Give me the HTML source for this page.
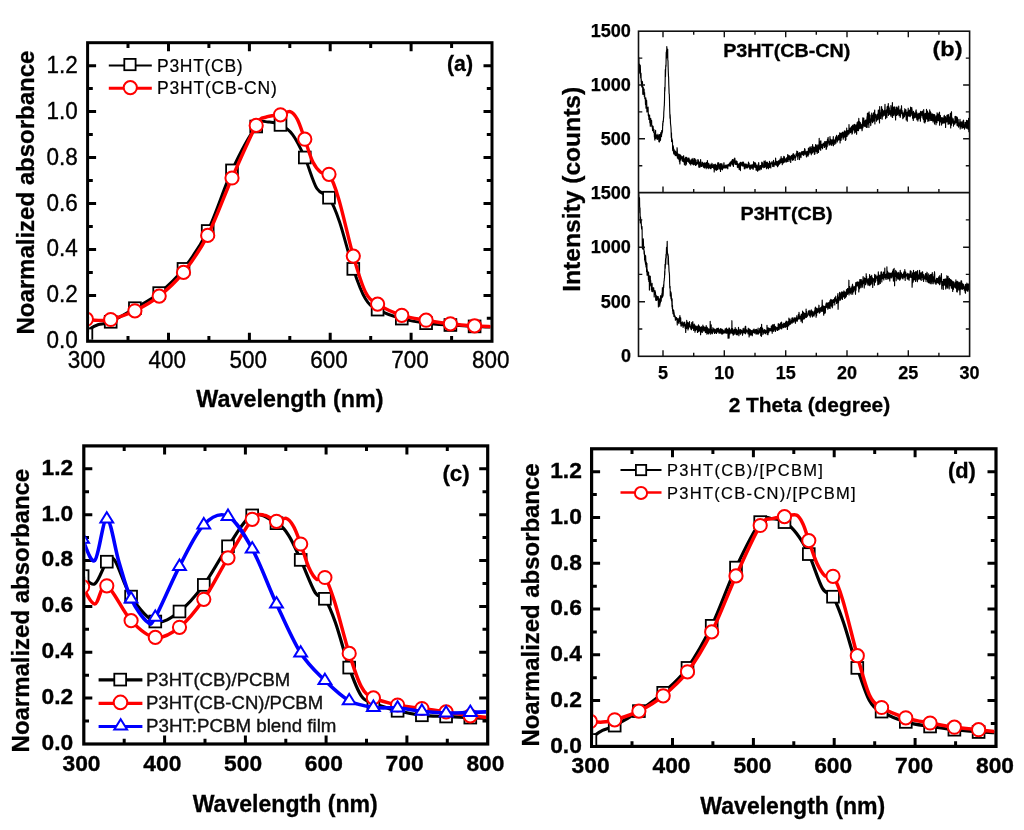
<!DOCTYPE html>
<html><head><meta charset="utf-8"><title>Figure</title><style>html,body{margin:0;padding:0;background:#fff;overflow:hidden}svg{display:block;filter:blur(0.45px)}text{font-family:"Liberation Sans",sans-serif}</style></head><body>
<svg width="1024" height="830" viewBox="0 0 1024 830">
<rect width="1024" height="830" fill="#fff"/>
<rect x="87.6" y="42.7" width="404.4" height="298.6" fill="none" stroke="#000" stroke-width="3"/>
<path d="M87.6 318.3h5.2M492 318.3h-5.2M87.6 295.4h8.5M492 295.4h-8.5M87.6 272.4h5.2M492 272.4h-5.2M87.6 249.4h8.5M492 249.4h-8.5M87.6 226.5h5.2M492 226.5h-5.2M87.6 203.5h8.5M492 203.5h-8.5M87.6 180.5h5.2M492 180.5h-5.2M87.6 157.5h8.5M492 157.5h-8.5M87.6 134.6h5.2M492 134.6h-5.2M87.6 111.6h8.5M492 111.6h-8.5M87.6 88.6h5.2M492 88.6h-5.2M87.6 65.7h8.5M492 65.7h-8.5M128 341.3v-5.2M128 42.7v5.2M168.5 341.3v-8.5M168.5 42.7v8.5M208.9 341.3v-5.2M208.9 42.7v5.2M249.4 341.3v-8.5M249.4 42.7v8.5M289.8 341.3v-5.2M289.8 42.7v5.2M330.2 341.3v-8.5M330.2 42.7v8.5M370.7 341.3v-5.2M370.7 42.7v5.2M411.1 341.3v-8.5M411.1 42.7v8.5M451.6 341.3v-5.2M451.6 42.7v5.2" stroke="#000" stroke-width="3" fill="none"/>
<clipPath id="ca"><rect x="89.1" y="44.2" width="401.4" height="295.6"/></clipPath>
<g clip-path="url(#ca)">
<path d="M86.4 334.4C87.2 333.3 89.2 329.6 91.3 328C93.3 326.3 95.3 325.6 98.5 324.5C101.8 323.5 104.6 324.5 110.7 321.8C116.7 319.1 126.8 313 134.9 308.2C143 303.4 151.1 299.6 159.2 293.1C167.3 286.5 175.4 279.3 183.5 268.9C191.5 258.6 199.6 247.5 207.7 231C215.8 214.6 223.9 187.8 232 170.4C240.1 153 250.2 134.6 256.2 126.5C262.3 118.5 264.3 122.2 268.4 121.9C272.4 121.7 276.5 122.8 280.5 124.9C284.6 127 288.6 129.1 292.6 134.6C296.7 140 300.7 148.5 304.8 157.5C308.8 166.5 312.9 181.9 316.9 188.6C321 195.3 325.3 192.2 329 197.7C332.8 203.3 335.5 210 339.6 221.9C343.6 233.7 349 256.1 353.3 268.9C357.6 281.8 361.4 292 365.4 298.8C369.5 305.6 371.5 306.3 377.6 309.6C383.6 312.9 393.7 316.3 401.8 318.6C409.9 320.8 418 322.1 426.1 323.2C434.2 324.2 442.3 324.5 450.4 325C458.4 325.5 467.9 326 474.6 326.4C481.4 326.7 488.1 326.9 490.8 327.1" stroke="#000" stroke-width="3.0" fill="none" stroke-linejoin="round"/>
<rect x="80.5" y="328.5" width="11.8" height="11.8" fill="#fff" stroke="#000" stroke-width="1.8"/>
<rect x="104.8" y="315.9" width="11.8" height="11.8" fill="#fff" stroke="#000" stroke-width="1.8"/>
<rect x="129" y="302.3" width="11.8" height="11.8" fill="#fff" stroke="#000" stroke-width="1.8"/>
<rect x="153.3" y="287.2" width="11.8" height="11.8" fill="#fff" stroke="#000" stroke-width="1.8"/>
<rect x="177.6" y="263" width="11.8" height="11.8" fill="#fff" stroke="#000" stroke-width="1.8"/>
<rect x="201.8" y="225.1" width="11.8" height="11.8" fill="#fff" stroke="#000" stroke-width="1.8"/>
<rect x="226.1" y="164.5" width="11.8" height="11.8" fill="#fff" stroke="#000" stroke-width="1.8"/>
<rect x="250.3" y="120.6" width="11.8" height="11.8" fill="#fff" stroke="#000" stroke-width="1.8"/>
<rect x="274.6" y="119" width="11.8" height="11.8" fill="#fff" stroke="#000" stroke-width="1.8"/>
<rect x="298.9" y="151.6" width="11.8" height="11.8" fill="#fff" stroke="#000" stroke-width="1.8"/>
<rect x="323.1" y="191.8" width="11.8" height="11.8" fill="#fff" stroke="#000" stroke-width="1.8"/>
<rect x="347.4" y="263" width="11.8" height="11.8" fill="#fff" stroke="#000" stroke-width="1.8"/>
<rect x="371.7" y="303.7" width="11.8" height="11.8" fill="#fff" stroke="#000" stroke-width="1.8"/>
<rect x="395.9" y="312.7" width="11.8" height="11.8" fill="#fff" stroke="#000" stroke-width="1.8"/>
<rect x="420.2" y="317.3" width="11.8" height="11.8" fill="#fff" stroke="#000" stroke-width="1.8"/>
<rect x="444.5" y="319.1" width="11.8" height="11.8" fill="#fff" stroke="#000" stroke-width="1.8"/>
<rect x="468.7" y="320.5" width="11.8" height="11.8" fill="#fff" stroke="#000" stroke-width="1.8"/>
</g>
<g clip-path="url(#ca)">
<path d="M86.4 319.2C88.4 319.4 94.5 320.4 98.5 320.4C102.6 320.4 104.6 321.1 110.7 319.5C116.7 317.9 126.8 314.7 134.9 310.8C143 306.8 151.1 302.4 159.2 296.1C167.3 289.7 175.4 282.5 183.5 272.4C191.5 262.3 199.6 251.1 207.7 235.4C215.8 219.7 223.9 196.3 232 178C240.1 159.7 250.6 135.5 256.2 125.4C261.9 115.2 261.9 118.9 266 117.1C270 115.4 276.5 115.7 280.5 114.8C284.6 113.9 287.4 110.8 290.2 111.6C293 112.4 295.1 115.1 297.5 119.6C299.9 124.2 302.2 132.1 304.8 139.2C307.3 146.3 310.2 156.6 312.9 162.1C315.6 167.7 318.3 170.4 321 172.5C323.6 174.5 326.1 169.9 329 174.3C332 178.7 334.7 185.3 338.7 198.9C342.8 212.5 348.9 240.6 353.3 256.1C357.8 271.6 361.4 283.9 365.4 291.9C369.5 299.9 371.5 300.2 377.6 304.1C383.6 308 393.7 312.7 401.8 315.3C409.9 318 418 318.8 426.1 320.2C434.2 321.6 442.3 322.9 450.4 323.8C458.4 324.8 467.9 325.5 474.6 325.9C481.4 326.4 488.1 326.5 490.8 326.6" stroke="#f00" stroke-width="3.4" fill="none" stroke-linejoin="round"/>
<circle cx="86.4" cy="319.2" r="6.6" fill="#fff" stroke="#f00" stroke-width="2"/>
<circle cx="110.7" cy="319.5" r="6.6" fill="#fff" stroke="#f00" stroke-width="2"/>
<circle cx="134.9" cy="310.8" r="6.6" fill="#fff" stroke="#f00" stroke-width="2"/>
<circle cx="159.2" cy="296.1" r="6.6" fill="#fff" stroke="#f00" stroke-width="2"/>
<circle cx="183.5" cy="272.4" r="6.6" fill="#fff" stroke="#f00" stroke-width="2"/>
<circle cx="207.7" cy="235.4" r="6.6" fill="#fff" stroke="#f00" stroke-width="2"/>
<circle cx="232" cy="178" r="6.6" fill="#fff" stroke="#f00" stroke-width="2"/>
<circle cx="256.2" cy="125.4" r="6.6" fill="#fff" stroke="#f00" stroke-width="2"/>
<circle cx="280.5" cy="114.8" r="6.6" fill="#fff" stroke="#f00" stroke-width="2"/>
<circle cx="304.8" cy="139.2" r="6.6" fill="#fff" stroke="#f00" stroke-width="2"/>
<circle cx="329" cy="174.3" r="6.6" fill="#fff" stroke="#f00" stroke-width="2"/>
<circle cx="353.3" cy="256.1" r="6.6" fill="#fff" stroke="#f00" stroke-width="2"/>
<circle cx="377.6" cy="304.1" r="6.6" fill="#fff" stroke="#f00" stroke-width="2"/>
<circle cx="401.8" cy="315.3" r="6.6" fill="#fff" stroke="#f00" stroke-width="2"/>
<circle cx="426.1" cy="320.2" r="6.6" fill="#fff" stroke="#f00" stroke-width="2"/>
<circle cx="450.4" cy="323.8" r="6.6" fill="#fff" stroke="#f00" stroke-width="2"/>
<circle cx="474.6" cy="325.9" r="6.6" fill="#fff" stroke="#f00" stroke-width="2"/>
</g>
<text x="77.8" y="348.3" font-size="24" text-anchor="end" fill="#000" textLength="31.3" lengthAdjust="spacingAndGlyphs" stroke="#000" stroke-width="0.35">0.0</text>
<text x="77.8" y="302.4" font-size="24" text-anchor="end" fill="#000" textLength="31.3" lengthAdjust="spacingAndGlyphs" stroke="#000" stroke-width="0.35">0.2</text>
<text x="77.8" y="256.4" font-size="24" text-anchor="end" fill="#000" textLength="31.3" lengthAdjust="spacingAndGlyphs" stroke="#000" stroke-width="0.35">0.4</text>
<text x="77.8" y="210.5" font-size="24" text-anchor="end" fill="#000" textLength="31.3" lengthAdjust="spacingAndGlyphs" stroke="#000" stroke-width="0.35">0.6</text>
<text x="77.8" y="164.5" font-size="24" text-anchor="end" fill="#000" textLength="31.3" lengthAdjust="spacingAndGlyphs" stroke="#000" stroke-width="0.35">0.8</text>
<text x="77.8" y="118.6" font-size="24" text-anchor="end" fill="#000" textLength="31.3" lengthAdjust="spacingAndGlyphs" stroke="#000" stroke-width="0.35">1.0</text>
<text x="77.8" y="72.7" font-size="24" text-anchor="end" fill="#000" textLength="31.3" lengthAdjust="spacingAndGlyphs" stroke="#000" stroke-width="0.35">1.2</text>
<text x="86.4" y="368" font-size="24" text-anchor="middle" fill="#000" textLength="37.5" lengthAdjust="spacingAndGlyphs" stroke="#000" stroke-width="0.35">300</text>
<text x="167.3" y="368" font-size="24" text-anchor="middle" fill="#000" textLength="37.5" lengthAdjust="spacingAndGlyphs" stroke="#000" stroke-width="0.35">400</text>
<text x="248.2" y="368" font-size="24" text-anchor="middle" fill="#000" textLength="37.5" lengthAdjust="spacingAndGlyphs" stroke="#000" stroke-width="0.35">500</text>
<text x="329" y="368" font-size="24" text-anchor="middle" fill="#000" textLength="37.5" lengthAdjust="spacingAndGlyphs" stroke="#000" stroke-width="0.35">600</text>
<text x="409.9" y="368" font-size="24" text-anchor="middle" fill="#000" textLength="37.5" lengthAdjust="spacingAndGlyphs" stroke="#000" stroke-width="0.35">700</text>
<text x="490.8" y="368" font-size="24" text-anchor="middle" fill="#000" textLength="37.5" lengthAdjust="spacingAndGlyphs" stroke="#000" stroke-width="0.35">800</text>
<text transform="translate(34 192.6) rotate(-90)" x="0" y="0" font-size="24" font-weight="bold" text-anchor="middle" textLength="284" lengthAdjust="spacingAndGlyphs" stroke="#000" stroke-width="0.3">Noarmalized absorbance</text>
<text x="289.9" y="407.3" font-size="23" font-weight="bold" text-anchor="middle" fill="#000" textLength="187.2" lengthAdjust="spacingAndGlyphs" stroke="#000" stroke-width="0.3">Wavelength (nm)</text>
<text x="473" y="71" font-size="22" font-weight="bold" text-anchor="end" fill="#000" textLength="26" lengthAdjust="spacingAndGlyphs" stroke="#000" stroke-width="0.3">(a)</text>
<path d="M108.8 65.5H151.8" stroke="#000" stroke-width="2.2"/>
<rect x="124.3" y="58.9" width="11.3" height="11.3" fill="#fff" stroke="#000" stroke-width="1.8"/>
<path d="M108.8 88.2H151.8" stroke="#f00" stroke-width="3"/>
<circle cx="130.3" cy="87.6" r="6.6" fill="#fff" stroke="#f00" stroke-width="2"/>
<text x="157" y="71.6" font-size="17.5" text-anchor="start" fill="#000" textLength="85.6" lengthAdjust="spacing" stroke="#000" stroke-width="0.2">P3HT(CB)</text>
<text x="157" y="94.4" font-size="17.5" text-anchor="start" fill="#000" textLength="119.8" lengthAdjust="spacing" stroke="#000" stroke-width="0.2">P3HT(CB-CN)</text>
<rect x="83.8" y="445.9" width="403.9" height="298.1" fill="none" stroke="#000" stroke-width="3.2"/>
<path d="M83.8 721.1h5.2M487.7 721.1h-5.2M83.8 698.1h8.5M487.7 698.1h-8.5M83.8 675.2h5.2M487.7 675.2h-5.2M83.8 652.3h8.5M487.7 652.3h-8.5M83.8 629.3h5.2M487.7 629.3h-5.2M83.8 606.4h8.5M487.7 606.4h-8.5M83.8 583.5h5.2M487.7 583.5h-5.2M83.8 560.6h8.5M487.7 560.6h-8.5M83.8 537.6h5.2M487.7 537.6h-5.2M83.8 514.7h8.5M487.7 514.7h-8.5M83.8 491.8h5.2M487.7 491.8h-5.2M83.8 468.8h8.5M487.7 468.8h-8.5M124.2 744v-5.2M124.2 445.9v5.2M164.6 744v-8.5M164.6 445.9v8.5M205 744v-5.2M205 445.9v5.2M245.4 744v-8.5M245.4 445.9v8.5M285.8 744v-5.2M285.8 445.9v5.2M326.1 744v-8.5M326.1 445.9v8.5M366.5 744v-5.2M366.5 445.9v5.2M406.9 744v-8.5M406.9 445.9v8.5M447.3 744v-5.2M447.3 445.9v5.2" stroke="#000" stroke-width="3" fill="none"/>
<clipPath id="cc"><rect x="85.3" y="447.4" width="400.9" height="295.1"/></clipPath>
<g clip-path="url(#cc)">
<path d="M82.6 576.1C84.6 577.4 90.7 586.4 94.7 583.9C98.8 581.5 103.5 565.6 106.8 561.7C110.2 557.8 110.9 554.7 114.9 560.6C119 566.4 124.3 586.4 131.1 596.6C137.8 606.7 147.2 619.1 155.3 621.5C163.4 624 171.5 617.6 179.5 611.5C187.6 605.3 195.7 595.7 203.8 584.9C211.8 574 219.9 557.9 228 546.3C236.1 534.8 244.2 519.2 252.2 515.4C260.3 511.5 270.4 519.9 276.5 523.2C282.5 526.5 284.6 529.2 288.6 535.3C292.6 541.4 296.3 550.3 300.7 559.9C305.1 569.4 311.2 586.2 315.2 592.7C319.3 599.2 321.6 593.9 324.9 598.8C328.3 603.8 331.4 611 335.4 622.5C339.5 633.9 344.9 655.4 349.2 667.6C353.5 679.9 357.3 689.9 361.3 695.8C365.3 701.8 367.3 700.7 373.4 703.2C379.5 705.7 389.6 708.7 397.6 710.8C405.7 712.8 413.8 714.4 421.9 715.3C430 716.3 438 716.1 446.1 716.5C454.2 716.9 463.6 717.3 470.3 717.6C477.1 717.9 483.8 718.2 486.5 718.3" stroke="#000" stroke-width="3.2" fill="none" stroke-linejoin="round"/>
<rect x="76.7" y="570.2" width="11.8" height="11.8" fill="#fff" stroke="#000" stroke-width="1.8"/>
<rect x="100.9" y="555.8" width="11.8" height="11.8" fill="#fff" stroke="#000" stroke-width="1.8"/>
<rect x="125.2" y="590.7" width="11.8" height="11.8" fill="#fff" stroke="#000" stroke-width="1.8"/>
<rect x="149.4" y="615.6" width="11.8" height="11.8" fill="#fff" stroke="#000" stroke-width="1.8"/>
<rect x="173.6" y="605.6" width="11.8" height="11.8" fill="#fff" stroke="#000" stroke-width="1.8"/>
<rect x="197.9" y="579" width="11.8" height="11.8" fill="#fff" stroke="#000" stroke-width="1.8"/>
<rect x="222.1" y="540.4" width="11.8" height="11.8" fill="#fff" stroke="#000" stroke-width="1.8"/>
<rect x="246.3" y="509.5" width="11.8" height="11.8" fill="#fff" stroke="#000" stroke-width="1.8"/>
<rect x="270.6" y="517.3" width="11.8" height="11.8" fill="#fff" stroke="#000" stroke-width="1.8"/>
<rect x="294.8" y="554" width="11.8" height="11.8" fill="#fff" stroke="#000" stroke-width="1.8"/>
<rect x="319" y="592.9" width="11.8" height="11.8" fill="#fff" stroke="#000" stroke-width="1.8"/>
<rect x="343.3" y="661.7" width="11.8" height="11.8" fill="#fff" stroke="#000" stroke-width="1.8"/>
<rect x="367.5" y="697.3" width="11.8" height="11.8" fill="#fff" stroke="#000" stroke-width="1.8"/>
<rect x="391.7" y="704.9" width="11.8" height="11.8" fill="#fff" stroke="#000" stroke-width="1.8"/>
<rect x="416" y="709.4" width="11.8" height="11.8" fill="#fff" stroke="#000" stroke-width="1.8"/>
<rect x="440.2" y="710.6" width="11.8" height="11.8" fill="#fff" stroke="#000" stroke-width="1.8"/>
<rect x="464.4" y="711.7" width="11.8" height="11.8" fill="#fff" stroke="#000" stroke-width="1.8"/>
</g>
<g clip-path="url(#cc)">
<path d="M82.6 586.7C84.6 589.6 90.7 604.3 94.7 604.1C98.8 604 100.8 583 106.8 585.8C112.9 588.5 123 612 131.1 620.6C139.1 629.2 147.2 636.3 155.3 637.4C163.4 638.5 171.5 633.6 179.5 627.3C187.6 620.9 195.7 610.9 203.8 599.3C211.8 587.7 219.9 571.1 228 557.8C236.1 544.5 246.2 526.4 252.2 519.3C258.3 512.2 260.3 514.8 264.4 515.2C268.4 515.5 272.8 520.8 276.5 521.3C280.1 521.9 283.3 517.6 286.2 518.4C289 519.2 291 521.9 293.4 526.2C295.9 530.4 298.1 537.2 300.7 544C303.3 550.9 306.1 561.5 308.8 567.4C311.5 573.3 314.2 577.7 316.9 579.4C319.6 581 322 573.8 324.9 577.5C327.9 581.3 330.6 589.2 334.6 601.8C338.7 614.5 344.7 639.3 349.2 653.4C353.6 667.6 357.3 679.3 361.3 686.7C365.3 694.1 367.3 694.9 373.4 697.9C379.5 701 389.6 703.3 397.6 705C405.7 706.8 413.8 707.3 421.9 708.5C430 709.6 438 710.7 446.1 711.9C454.2 713.1 463.6 714.9 470.3 715.8C477.1 716.7 483.8 716.9 486.5 717.2" stroke="#f00" stroke-width="3.5" fill="none" stroke-linejoin="round"/>
<circle cx="82.6" cy="586.7" r="6.6" fill="#fff" stroke="#f00" stroke-width="2"/>
<circle cx="106.8" cy="585.8" r="6.6" fill="#fff" stroke="#f00" stroke-width="2"/>
<circle cx="131.1" cy="620.6" r="6.6" fill="#fff" stroke="#f00" stroke-width="2"/>
<circle cx="155.3" cy="637.4" r="6.6" fill="#fff" stroke="#f00" stroke-width="2"/>
<circle cx="179.5" cy="627.3" r="6.6" fill="#fff" stroke="#f00" stroke-width="2"/>
<circle cx="203.8" cy="599.3" r="6.6" fill="#fff" stroke="#f00" stroke-width="2"/>
<circle cx="228" cy="557.8" r="6.6" fill="#fff" stroke="#f00" stroke-width="2"/>
<circle cx="252.2" cy="519.3" r="6.6" fill="#fff" stroke="#f00" stroke-width="2"/>
<circle cx="276.5" cy="521.3" r="6.6" fill="#fff" stroke="#f00" stroke-width="2"/>
<circle cx="300.7" cy="544" r="6.6" fill="#fff" stroke="#f00" stroke-width="2"/>
<circle cx="324.9" cy="577.5" r="6.6" fill="#fff" stroke="#f00" stroke-width="2"/>
<circle cx="349.2" cy="653.4" r="6.6" fill="#fff" stroke="#f00" stroke-width="2"/>
<circle cx="373.4" cy="697.9" r="6.6" fill="#fff" stroke="#f00" stroke-width="2"/>
<circle cx="397.6" cy="705" r="6.6" fill="#fff" stroke="#f00" stroke-width="2"/>
<circle cx="421.9" cy="708.5" r="6.6" fill="#fff" stroke="#f00" stroke-width="2"/>
<circle cx="446.1" cy="711.9" r="6.6" fill="#fff" stroke="#f00" stroke-width="2"/>
<circle cx="470.3" cy="715.8" r="6.6" fill="#fff" stroke="#f00" stroke-width="2"/>
</g>
<g clip-path="url(#cc)">
<path d="M82.6 539.2C84.6 542.8 90.7 563.9 94.7 560.5C98.8 557.2 102.8 518.8 106.8 519C110.9 519.3 114.9 548.9 119 562.2C123 575.5 126.4 588.9 131.1 598.8C135.8 608.8 143.2 618.7 147.2 621.8C151.3 624.8 149.9 626.4 155.3 617.2C160.7 607.9 171.5 581.7 179.5 566.3C187.6 550.9 195.7 533.1 203.8 524.8C211.8 516.4 219.9 512.3 228 516.3C236.1 520.3 244.2 534.3 252.2 548.9C260.3 563.5 268.4 586.5 276.5 603.9C284.5 621.2 292.6 640.2 300.7 653C308.8 665.7 316.9 672.5 324.9 680.5C333 688.4 341.1 696.2 349.2 700.7C357.3 705.1 365.3 706.1 373.4 707.3C381.5 708.5 389.6 707.3 397.6 708C405.7 708.6 413.8 710.4 421.9 711.2C430 712 438 712.8 446.1 713C454.2 713.2 463.6 712.5 470.3 712.4C477.1 712.2 483.8 712 486.5 711.9" stroke="#00f" stroke-width="3.6" fill="none" stroke-linejoin="round"/>
<path d="M82.6 532.4L89 542.8L76.2 542.8Z" fill="#fff" stroke="#00f" stroke-width="2" stroke-linejoin="miter"/>
<path d="M106.8 512.2L113.2 522.6L100.4 522.6Z" fill="#fff" stroke="#00f" stroke-width="2" stroke-linejoin="miter"/>
<path d="M131.1 592L137.5 602.4L124.7 602.4Z" fill="#fff" stroke="#00f" stroke-width="2" stroke-linejoin="miter"/>
<path d="M155.3 610.4L161.7 620.8L148.9 620.8Z" fill="#fff" stroke="#00f" stroke-width="2" stroke-linejoin="miter"/>
<path d="M179.5 559.5L185.9 569.9L173.1 569.9Z" fill="#fff" stroke="#00f" stroke-width="2" stroke-linejoin="miter"/>
<path d="M203.8 518L210.2 528.4L197.4 528.4Z" fill="#fff" stroke="#00f" stroke-width="2" stroke-linejoin="miter"/>
<path d="M228 509.5L234.4 519.9L221.6 519.9Z" fill="#fff" stroke="#00f" stroke-width="2" stroke-linejoin="miter"/>
<path d="M252.2 542.1L258.6 552.5L245.8 552.5Z" fill="#fff" stroke="#00f" stroke-width="2" stroke-linejoin="miter"/>
<path d="M276.5 597.1L282.9 607.5L270.1 607.5Z" fill="#fff" stroke="#00f" stroke-width="2" stroke-linejoin="miter"/>
<path d="M300.7 646.2L307.1 656.6L294.3 656.6Z" fill="#fff" stroke="#00f" stroke-width="2" stroke-linejoin="miter"/>
<path d="M324.9 673.7L331.3 684.1L318.5 684.1Z" fill="#fff" stroke="#00f" stroke-width="2" stroke-linejoin="miter"/>
<path d="M349.2 693.9L355.6 704.3L342.8 704.3Z" fill="#fff" stroke="#00f" stroke-width="2" stroke-linejoin="miter"/>
<path d="M373.4 700.5L379.8 710.9L367 710.9Z" fill="#fff" stroke="#00f" stroke-width="2" stroke-linejoin="miter"/>
<path d="M397.6 701.2L404 711.6L391.2 711.6Z" fill="#fff" stroke="#00f" stroke-width="2" stroke-linejoin="miter"/>
<path d="M421.9 704.4L428.3 714.8L415.5 714.8Z" fill="#fff" stroke="#00f" stroke-width="2" stroke-linejoin="miter"/>
<path d="M446.1 706.2L452.5 716.6L439.7 716.6Z" fill="#fff" stroke="#00f" stroke-width="2" stroke-linejoin="miter"/>
<path d="M470.3 705.6L476.7 716L463.9 716Z" fill="#fff" stroke="#00f" stroke-width="2" stroke-linejoin="miter"/>
</g>
<text x="73.3" y="749.8" font-size="22.5" font-weight="bold" text-anchor="end" fill="#000" textLength="31.7" lengthAdjust="spacingAndGlyphs" stroke="#000" stroke-width="0.35">0.0</text>
<text x="73.3" y="703.9" font-size="22.5" font-weight="bold" text-anchor="end" fill="#000" textLength="31.7" lengthAdjust="spacingAndGlyphs" stroke="#000" stroke-width="0.35">0.2</text>
<text x="73.3" y="658.1" font-size="22.5" font-weight="bold" text-anchor="end" fill="#000" textLength="31.7" lengthAdjust="spacingAndGlyphs" stroke="#000" stroke-width="0.35">0.4</text>
<text x="73.3" y="612.2" font-size="22.5" font-weight="bold" text-anchor="end" fill="#000" textLength="31.7" lengthAdjust="spacingAndGlyphs" stroke="#000" stroke-width="0.35">0.6</text>
<text x="73.3" y="566.4" font-size="22.5" font-weight="bold" text-anchor="end" fill="#000" textLength="31.7" lengthAdjust="spacingAndGlyphs" stroke="#000" stroke-width="0.35">0.8</text>
<text x="73.3" y="520.5" font-size="22.5" font-weight="bold" text-anchor="end" fill="#000" textLength="31.7" lengthAdjust="spacingAndGlyphs" stroke="#000" stroke-width="0.35">1.0</text>
<text x="73.3" y="474.6" font-size="22.5" font-weight="bold" text-anchor="end" fill="#000" textLength="31.7" lengthAdjust="spacingAndGlyphs" stroke="#000" stroke-width="0.35">1.2</text>
<text x="81.5" y="770.8" font-size="22.5" font-weight="bold" text-anchor="middle" fill="#000" textLength="38" lengthAdjust="spacingAndGlyphs" stroke="#000" stroke-width="0.35">300</text>
<text x="162.3" y="770.8" font-size="22.5" font-weight="bold" text-anchor="middle" fill="#000" textLength="38" lengthAdjust="spacingAndGlyphs" stroke="#000" stroke-width="0.35">400</text>
<text x="243.1" y="770.8" font-size="22.5" font-weight="bold" text-anchor="middle" fill="#000" textLength="38" lengthAdjust="spacingAndGlyphs" stroke="#000" stroke-width="0.35">500</text>
<text x="323.8" y="770.8" font-size="22.5" font-weight="bold" text-anchor="middle" fill="#000" textLength="38" lengthAdjust="spacingAndGlyphs" stroke="#000" stroke-width="0.35">600</text>
<text x="404.6" y="770.8" font-size="22.5" font-weight="bold" text-anchor="middle" fill="#000" textLength="38" lengthAdjust="spacingAndGlyphs" stroke="#000" stroke-width="0.35">700</text>
<text x="485.4" y="770.8" font-size="22.5" font-weight="bold" text-anchor="middle" fill="#000" textLength="38" lengthAdjust="spacingAndGlyphs" stroke="#000" stroke-width="0.35">800</text>
<text transform="translate(29.3 610.6) rotate(-90)" x="0" y="0" font-size="24" font-weight="bold" text-anchor="middle" textLength="283.6" lengthAdjust="spacingAndGlyphs" stroke="#000" stroke-width="0.3">Noarmalized absorbance</text>
<text x="285.2" y="811.6" font-size="23" font-weight="bold" text-anchor="middle" fill="#000" textLength="185" lengthAdjust="spacingAndGlyphs" stroke="#000" stroke-width="0.3">Wavelength (nm)</text>
<text x="469.8" y="481" font-size="22" font-weight="bold" text-anchor="end" fill="#000" textLength="27.4" lengthAdjust="spacingAndGlyphs" stroke="#000" stroke-width="0.3">(c)</text>
<path d="M98.6 679.9H142.4" stroke="#000" stroke-width="3.2"/>
<rect x="114.3" y="673.7" width="11.8" height="11.8" fill="#fff" stroke="#000" stroke-width="1.8"/>
<path d="M98.6 703.4H142.4" stroke="#f00" stroke-width="3.2"/>
<circle cx="120.5" cy="702.4" r="6.8" fill="#fff" stroke="#f00" stroke-width="2"/>
<path d="M98.6 726.5H142.4" stroke="#00f" stroke-width="3.2"/>
<path d="M120.7 719.2L127.1 729.6L114.3 729.6Z" fill="#fff" stroke="#00f" stroke-width="2" stroke-linejoin="miter"/>
<text x="146" y="686.4" font-size="17.5" text-anchor="start" fill="#111" textLength="144.2" lengthAdjust="spacingAndGlyphs" stroke="#111" stroke-width="0.35">P3HT(CB)/PCBM</text>
<text x="146" y="709.4" font-size="17.5" text-anchor="start" fill="#111" textLength="177.2" lengthAdjust="spacingAndGlyphs" stroke="#111" stroke-width="0.35">P3HT(CB-CN)/PCBM</text>
<text x="146" y="732" font-size="17.5" text-anchor="start" fill="#111" textLength="190.4" lengthAdjust="spacingAndGlyphs" stroke="#111" stroke-width="0.35">P3HT:PCBM blend film</text>
<rect x="591.6" y="448.8" width="404.4" height="297.6" fill="none" stroke="#000" stroke-width="3.2"/>
<path d="M591.6 723.5h5.2M996 723.5h-5.2M591.6 700.6h8.5M996 700.6h-8.5M591.6 677.7h5.2M996 677.7h-5.2M591.6 654.8h8.5M996 654.8h-8.5M591.6 631.9h5.2M996 631.9h-5.2M591.6 609h8.5M996 609h-8.5M591.6 586.2h5.2M996 586.2h-5.2M591.6 563.3h8.5M996 563.3h-8.5M591.6 540.4h5.2M996 540.4h-5.2M591.6 517.5h8.5M996 517.5h-8.5M591.6 494.6h5.2M996 494.6h-5.2M591.6 471.7h8.5M996 471.7h-8.5M632 746.4v-5.2M632 448.8v5.2M672.5 746.4v-8.5M672.5 448.8v8.5M712.9 746.4v-5.2M712.9 448.8v5.2M753.4 746.4v-8.5M753.4 448.8v8.5M793.8 746.4v-5.2M793.8 448.8v5.2M834.2 746.4v-8.5M834.2 448.8v8.5M874.7 746.4v-5.2M874.7 448.8v5.2M915.1 746.4v-8.5M915.1 448.8v8.5M955.6 746.4v-5.2M955.6 448.8v5.2" stroke="#000" stroke-width="3" fill="none"/>
<clipPath id="cd"><rect x="593.1" y="450.3" width="401.4" height="294.6"/></clipPath>
<g clip-path="url(#cd)">
<path d="M590.4 740C591.2 739.2 593.2 736.6 595.3 735C597.3 733.4 599.3 731.9 602.5 730.4C605.8 728.8 608.6 728.8 614.7 725.6C620.7 722.4 630.8 716.6 638.9 711.1C647 705.7 655.1 700 663.2 692.8C671.3 685.6 679.4 679.1 687.5 667.9C695.5 656.7 703.6 642.5 711.7 625.8C719.8 609 727.9 584.9 736 567.6C744.1 550.3 754.2 530.2 760.2 522.1C766.3 513.9 768.3 518.6 772.4 518.6C776.4 518.6 780.5 519.6 784.5 522.1C788.6 524.5 792.6 528.2 796.6 533.5C800.7 538.8 804.5 544.9 808.8 554.1C813.1 563.3 818.5 581.3 822.5 588.4C826.6 595.5 829.5 591 833 596.7C836.5 602.4 839.5 610.9 843.6 622.8C847.6 634.6 853 654.9 857.3 667.9C861.6 680.9 865.4 693.3 869.4 700.6C873.5 707.9 875.5 708.1 881.6 711.6C887.6 715.2 897.7 719.4 905.8 721.9C913.9 724.4 922 725.2 930.1 726.5C938.2 727.8 946.3 728.8 954.4 729.7C962.4 730.6 971.9 731.5 978.6 732C985.4 732.5 992.1 732.6 994.8 732.7" stroke="#000" stroke-width="3.2" fill="none" stroke-linejoin="round"/>
<rect x="584.5" y="734.1" width="11.8" height="11.8" fill="#fff" stroke="#000" stroke-width="1.8"/>
<rect x="608.8" y="719.7" width="11.8" height="11.8" fill="#fff" stroke="#000" stroke-width="1.8"/>
<rect x="633" y="705.2" width="11.8" height="11.8" fill="#fff" stroke="#000" stroke-width="1.8"/>
<rect x="657.3" y="686.9" width="11.8" height="11.8" fill="#fff" stroke="#000" stroke-width="1.8"/>
<rect x="681.6" y="662" width="11.8" height="11.8" fill="#fff" stroke="#000" stroke-width="1.8"/>
<rect x="705.8" y="619.9" width="11.8" height="11.8" fill="#fff" stroke="#000" stroke-width="1.8"/>
<rect x="730.1" y="561.7" width="11.8" height="11.8" fill="#fff" stroke="#000" stroke-width="1.8"/>
<rect x="754.3" y="516.2" width="11.8" height="11.8" fill="#fff" stroke="#000" stroke-width="1.8"/>
<rect x="778.6" y="516.2" width="11.8" height="11.8" fill="#fff" stroke="#000" stroke-width="1.8"/>
<rect x="802.9" y="548.2" width="11.8" height="11.8" fill="#fff" stroke="#000" stroke-width="1.8"/>
<rect x="827.1" y="590.8" width="11.8" height="11.8" fill="#fff" stroke="#000" stroke-width="1.8"/>
<rect x="851.4" y="662" width="11.8" height="11.8" fill="#fff" stroke="#000" stroke-width="1.8"/>
<rect x="875.7" y="705.7" width="11.8" height="11.8" fill="#fff" stroke="#000" stroke-width="1.8"/>
<rect x="899.9" y="716" width="11.8" height="11.8" fill="#fff" stroke="#000" stroke-width="1.8"/>
<rect x="924.2" y="720.6" width="11.8" height="11.8" fill="#fff" stroke="#000" stroke-width="1.8"/>
<rect x="948.5" y="723.8" width="11.8" height="11.8" fill="#fff" stroke="#000" stroke-width="1.8"/>
<rect x="972.7" y="726.1" width="11.8" height="11.8" fill="#fff" stroke="#000" stroke-width="1.8"/>
</g>
<g clip-path="url(#cd)">
<path d="M590.4 721.4C592.4 721.6 598.5 722.4 602.5 722.1C606.6 721.9 608.6 721.7 614.7 719.8C620.7 718 630.8 715.2 638.9 711.1C647 707.1 655.1 702.4 663.2 695.8C671.3 689.2 679.4 682.4 687.5 671.8C695.5 661.1 703.6 647.9 711.7 631.9C719.8 616 727.9 593.6 736 575.9C744.1 558.1 754.2 535 760.2 525.5C766.3 516 768.3 520.1 772.4 518.6C776.4 517.1 780.5 517.1 784.5 516.6C788.6 516 793.5 513.9 796.6 515.2C799.7 516.5 801.1 520.1 803.1 524.3C805.1 528.6 806.5 534.1 808.8 540.6C811.1 547.1 814.2 557.4 816.9 563.3C819.6 569.1 822.3 573.7 825 575.9C827.6 578 830.1 572.3 833 576.3C836 580.3 838.7 586.6 842.7 599.9C846.8 613.1 852.9 639.9 857.3 655.7C861.8 671.6 865.4 686.3 869.4 694.9C873.5 703.5 875.5 703.7 881.6 707.5C887.6 711.3 897.7 715.2 905.8 717.8C913.9 720.4 922 721.5 930.1 723C938.2 724.6 946.3 726.1 954.4 727.2C962.4 728.3 971.9 729 978.6 729.7C985.4 730.4 992.1 731.2 994.8 731.5" stroke="#f00" stroke-width="3.5" fill="none" stroke-linejoin="round"/>
<circle cx="590.4" cy="721.4" r="6.6" fill="#fff" stroke="#f00" stroke-width="2"/>
<circle cx="614.7" cy="719.8" r="6.6" fill="#fff" stroke="#f00" stroke-width="2"/>
<circle cx="638.9" cy="711.1" r="6.6" fill="#fff" stroke="#f00" stroke-width="2"/>
<circle cx="663.2" cy="695.8" r="6.6" fill="#fff" stroke="#f00" stroke-width="2"/>
<circle cx="687.5" cy="671.8" r="6.6" fill="#fff" stroke="#f00" stroke-width="2"/>
<circle cx="711.7" cy="631.9" r="6.6" fill="#fff" stroke="#f00" stroke-width="2"/>
<circle cx="736" cy="575.9" r="6.6" fill="#fff" stroke="#f00" stroke-width="2"/>
<circle cx="760.2" cy="525.5" r="6.6" fill="#fff" stroke="#f00" stroke-width="2"/>
<circle cx="784.5" cy="516.6" r="6.6" fill="#fff" stroke="#f00" stroke-width="2"/>
<circle cx="808.8" cy="540.6" r="6.6" fill="#fff" stroke="#f00" stroke-width="2"/>
<circle cx="833" cy="576.3" r="6.6" fill="#fff" stroke="#f00" stroke-width="2"/>
<circle cx="857.3" cy="655.7" r="6.6" fill="#fff" stroke="#f00" stroke-width="2"/>
<circle cx="881.6" cy="707.5" r="6.6" fill="#fff" stroke="#f00" stroke-width="2"/>
<circle cx="905.8" cy="717.8" r="6.6" fill="#fff" stroke="#f00" stroke-width="2"/>
<circle cx="930.1" cy="723" r="6.6" fill="#fff" stroke="#f00" stroke-width="2"/>
<circle cx="954.4" cy="727.2" r="6.6" fill="#fff" stroke="#f00" stroke-width="2"/>
<circle cx="978.6" cy="729.7" r="6.6" fill="#fff" stroke="#f00" stroke-width="2"/>
</g>
<text x="581.9" y="752.6" font-size="22.5" font-weight="bold" text-anchor="end" fill="#000" textLength="31.7" lengthAdjust="spacingAndGlyphs" stroke="#000" stroke-width="0.35">0.0</text>
<text x="581.9" y="706.8" font-size="22.5" font-weight="bold" text-anchor="end" fill="#000" textLength="31.7" lengthAdjust="spacingAndGlyphs" stroke="#000" stroke-width="0.35">0.2</text>
<text x="581.9" y="661" font-size="22.5" font-weight="bold" text-anchor="end" fill="#000" textLength="31.7" lengthAdjust="spacingAndGlyphs" stroke="#000" stroke-width="0.35">0.4</text>
<text x="581.9" y="615.2" font-size="22.5" font-weight="bold" text-anchor="end" fill="#000" textLength="31.7" lengthAdjust="spacingAndGlyphs" stroke="#000" stroke-width="0.35">0.6</text>
<text x="581.9" y="569.5" font-size="22.5" font-weight="bold" text-anchor="end" fill="#000" textLength="31.7" lengthAdjust="spacingAndGlyphs" stroke="#000" stroke-width="0.35">0.8</text>
<text x="581.9" y="523.7" font-size="22.5" font-weight="bold" text-anchor="end" fill="#000" textLength="31.7" lengthAdjust="spacingAndGlyphs" stroke="#000" stroke-width="0.35">1.0</text>
<text x="581.9" y="477.9" font-size="22.5" font-weight="bold" text-anchor="end" fill="#000" textLength="31.7" lengthAdjust="spacingAndGlyphs" stroke="#000" stroke-width="0.35">1.2</text>
<text x="590.6" y="773.1" font-size="22.5" font-weight="bold" text-anchor="middle" fill="#000" textLength="38" lengthAdjust="spacingAndGlyphs" stroke="#000" stroke-width="0.35">300</text>
<text x="671.5" y="773.1" font-size="22.5" font-weight="bold" text-anchor="middle" fill="#000" textLength="38" lengthAdjust="spacingAndGlyphs" stroke="#000" stroke-width="0.35">400</text>
<text x="752.4" y="773.1" font-size="22.5" font-weight="bold" text-anchor="middle" fill="#000" textLength="38" lengthAdjust="spacingAndGlyphs" stroke="#000" stroke-width="0.35">500</text>
<text x="833.2" y="773.1" font-size="22.5" font-weight="bold" text-anchor="middle" fill="#000" textLength="38" lengthAdjust="spacingAndGlyphs" stroke="#000" stroke-width="0.35">600</text>
<text x="914.1" y="773.1" font-size="22.5" font-weight="bold" text-anchor="middle" fill="#000" textLength="38" lengthAdjust="spacingAndGlyphs" stroke="#000" stroke-width="0.35">700</text>
<text x="995" y="773.1" font-size="22.5" font-weight="bold" text-anchor="middle" fill="#000" textLength="38" lengthAdjust="spacingAndGlyphs" stroke="#000" stroke-width="0.35">800</text>
<text transform="translate(539 605) rotate(-90)" x="0" y="0" font-size="24" font-weight="bold" text-anchor="middle" textLength="283.2" lengthAdjust="spacingAndGlyphs" stroke="#000" stroke-width="0.3">Noarmalized absorbance</text>
<text x="792.8" y="813.6" font-size="23" font-weight="bold" text-anchor="middle" fill="#000" textLength="185" lengthAdjust="spacingAndGlyphs" stroke="#000" stroke-width="0.3">Wavelength (nm)</text>
<text x="975.9" y="478.1" font-size="22" font-weight="bold" text-anchor="end" fill="#000" textLength="27.9" lengthAdjust="spacingAndGlyphs" stroke="#000" stroke-width="0.3">(d)</text>
<path d="M620.5 470H661.5" stroke="#000" stroke-width="2.2"/>
<rect x="635.9" y="464.9" width="10.3" height="10.3" fill="#fff" stroke="#000" stroke-width="1.8"/>
<path d="M620.5 492.5H661.5" stroke="#f00" stroke-width="2.6"/>
<circle cx="641" cy="493" r="6.1" fill="#fff" stroke="#f00" stroke-width="2"/>
<text x="667" y="476.3" font-size="16.5" text-anchor="start" fill="#000" textLength="155.9" lengthAdjust="spacing" stroke="#000" stroke-width="0.2">P3HT(CB)/[PCBM]</text>
<text x="667" y="498.8" font-size="16.5" text-anchor="start" fill="#000" textLength="188.7" lengthAdjust="spacing" stroke="#000" stroke-width="0.2">P3HT(CB-CN)/[PCBM]</text>
<clipPath id="cbu"><rect x="638.5" y="31.2" width="331.1" height="161.4"/></clipPath>
<clipPath id="cbl"><rect x="638.5" y="192.6" width="331.1" height="163.7"/></clipPath>
<polyline clip-path="url(#cbu)" points="638.5,64.6 638.7,64.1 638.8,57.6 639,70.3 639.2,69.3 639.3,72.2 639.5,68.7 639.7,64.4 639.8,72.4 640,73.7 640.2,70.1 640.3,65.5 640.5,73.1 640.7,77.9 640.8,73.9 641,73.2 641.2,81.9 641.3,79.3 641.5,85.5 641.6,84 641.8,86.9 642,81.6 642.1,86.3 642.3,81.4 642.5,82.7 642.6,84.9 642.8,94.3 643,88 643.1,87.1 643.3,87.5 643.5,94.3 643.6,91.5 643.8,94.2 644,94.6 644.1,89 644.3,96.5 644.5,94.8 644.6,92.6 644.8,98.6 645,98 645.1,98.2 645.3,99.3 645.5,104.5 645.6,101.1 645.8,97.8 646,108.2 646.1,101.3 646.3,104.5 646.5,107.8 646.6,100.2 646.8,104.9 646.9,111.9 647.1,108.6 647.3,107.7 647.4,110.8 647.6,108.8 647.8,111.7 647.9,110.2 648.1,107.1 648.3,115.5 648.4,113.5 648.6,116.1 648.8,115 648.9,119.5 649.1,118.3 649.3,117.7 649.4,115.1 649.6,115 649.8,122.8 649.9,121.8 650.1,118.1 650.3,126.3 650.4,122.4 650.6,121.9 650.8,118.6 650.9,120.7 651.1,124.1 651.3,124.7 651.4,124.9 651.6,120.5 651.8,126.4 651.9,126.5 652.1,125.2 652.2,127 652.4,127.7 652.6,130.7 652.7,127.4 652.9,130 653.1,126.2 653.2,128.2 653.4,130.6 653.6,129.3 653.7,132.5 653.9,129.4 654.1,132.6 654.2,131.6 654.4,137 654.6,133.2 654.7,138.8 654.9,140.1 655.1,136 655.2,137.9 655.4,135.5 655.6,130.4 655.7,138.4 655.9,138.1 656.1,136.1 656.2,135.4 656.4,137.1 656.6,137.2 656.7,134.9 656.9,135.3 657.1,139.3 657.2,136.8 657.4,136.6 657.5,139.3 657.7,136 657.9,138.8 658,134.2 658.2,136.2 658.4,136.4 658.5,138.1 658.7,136.9 658.9,141.7 659,139.5 659.2,135.7 659.4,142 659.5,134.5 659.7,141 659.9,134.7 660,138.7 660.2,134.6 660.4,136.2 660.5,140.3 660.7,133.2 660.9,132.5 661,136 661.2,136 661.4,135.2 661.5,136.6 661.7,130.5 661.9,133.9 662,131.7 662.2,132.7 662.4,131.1 662.5,131.6 662.7,123.4 662.8,125.8 663,121 663.2,121.9 663.3,121.9 663.5,118.5 663.7,116.6 663.8,112 664,110 664.2,106.2 664.3,106 664.5,100.1 664.7,87.4 664.8,91.1 665,88 665.2,78.3 665.3,69.6 665.5,76.4 665.7,67.2 665.8,65 666,66.2 666.2,52.4 666.3,59.1 666.5,50.6 666.7,52.8 666.8,46.6 667,51 667.2,49.8 667.3,55.4 667.5,57.8 667.7,49.2 667.8,60.2 668,60.5 668.1,65.8 668.3,71.7 668.5,76.5 668.6,76.9 668.8,85.1 669,89.4 669.1,93.4 669.3,94.1 669.5,100.2 669.6,105.4 669.8,112.2 670,118.3 670.1,114.6 670.3,117.6 670.5,123.5 670.6,124.2 670.8,126 671,128.3 671.1,130.3 671.3,137.5 671.5,132.9 671.6,141.6 671.8,138 672,140.4 672.1,140.9 672.3,139.7 672.5,141.7 672.6,148.7 672.8,150.6 673,145.4 673.1,150 673.3,148.2 673.4,146.6 673.6,152.6 673.8,154 673.9,149 674.1,149.8 674.3,150.8 674.4,150.5 674.6,152.8 674.8,154.5 674.9,151.8 675.1,153.8 675.3,155.6 675.4,151.1 675.6,152.6 675.8,151.8 675.9,155.1 676.1,154.6 676.3,155.6 676.4,155.6 676.6,153.5 676.8,155.8 676.9,153.5 677.1,147.7 677.3,150.4 677.4,157.9 677.6,153.2 677.8,155.5 677.9,155.5 678.1,158.7 678.3,156.8 678.4,154.4 678.6,156.3 678.7,159.2 678.9,157 679.1,154.2 679.2,156.7 679.4,161.4 679.6,158.4 679.7,161.2 679.9,163.9 680.1,158.4 680.2,154.7 680.4,157.5 680.6,160.1 680.7,159.7 680.9,155.6 681.1,157.7 681.2,158 681.4,158.3 681.6,158.2 681.7,156.7 681.9,157.3 682.1,158.1 682.2,160.7 682.4,157.6 682.6,160.1 682.7,156.6 682.9,161.5 683.1,159.3 683.2,159.1 683.4,161.8 683.6,155.7 683.7,156.3 683.9,160.3 684,157.9 684.2,158.7 684.4,164.8 684.5,159.1 684.7,159.8 684.9,159.6 685,162 685.2,160.5 685.4,160.3 685.5,157.7 685.7,165.3 685.9,160.2 686,157.2 686.2,161.4 686.4,161.1 686.5,164.1 686.7,157.3 686.9,158.6 687,158.8 687.2,159.3 687.4,160.5 687.5,160.3 687.7,161.3 687.9,161.3 688,160.8 688.2,158 688.4,159.9 688.5,161.2 688.7,159.6 688.9,162.5 689,158.1 689.2,160.3 689.3,161.2 689.5,162.1 689.7,163.6 689.8,161.6 690,159.8 690.2,162.4 690.3,162.1 690.5,162.1 690.7,161.5 690.8,164.9 691,162.3 691.2,163.5 691.3,160.2 691.5,163.4 691.7,160.9 691.8,159 692,162.7 692.2,163.3 692.3,161.8 692.5,162.2 692.7,164.2 692.8,161.4 693,158.4 693.2,162.9 693.3,162.8 693.5,164.5 693.7,161.8 693.8,164.9 694,164.7 694.2,160.1 694.3,164.4 694.5,158.5 694.6,159.7 694.8,162.2 695,161.7 695.1,159 695.3,163.2 695.5,164 695.6,165.5 695.8,162.9 696,160.1 696.1,161.1 696.3,164.9 696.5,164.7 696.6,164.1 696.8,162.6 697,163.6 697.1,162.8 697.3,162.7 697.5,163.9 697.6,163.4 697.8,159.7 698,163.5 698.1,162.4 698.3,159.8 698.5,162.3 698.6,163.4 698.8,166.8 699,162.8 699.1,167.4 699.3,166.4 699.5,162 699.6,162.4 699.8,164 699.9,167.1 700.1,164.5 700.3,165.2 700.4,162.7 700.6,159.6 700.8,163.5 700.9,165.5 701.1,166.3 701.3,164.2 701.4,164.4 701.6,166.3 701.8,164 701.9,166.4 702.1,162.1 702.3,162.2 702.4,162.2 702.6,165.3 702.8,163.4 702.9,164.7 703.1,165.2 703.3,165.1 703.4,167 703.6,167.3 703.8,163.1 703.9,165 704.1,164.3 704.3,162.8 704.4,168 704.6,166.3 704.8,164.5 704.9,164.1 705.1,165.6 705.3,163 705.4,164.5 705.6,167.3 705.7,166.8 705.9,163.5 706.1,164.2 706.2,168.7 706.4,162.6 706.6,164 706.7,162.7 706.9,166 707.1,165.8 707.2,167.4 707.4,160.5 707.6,165.7 707.7,162.4 707.9,166.7 708.1,165.1 708.2,168.6 708.4,166.2 708.6,163.7 708.7,167.9 708.9,163.6 709.1,165 709.2,167.6 709.4,166.6 709.6,165 709.7,165.8 709.9,166.8 710.1,167.3 710.2,168.4 710.4,167.8 710.6,168.3 710.7,166 710.9,164.2 711,168.8 711.2,165.9 711.4,167.2 711.5,167.8 711.7,164.4 711.9,167 712,163.2 712.2,167.5 712.4,165.3 712.5,166.5 712.7,167.5 712.9,165 713,166.4 713.2,165 713.4,166.2 713.5,168.2 713.7,166.4 713.9,166.1 714,164.4 714.2,171.9 714.4,166.3 714.5,169.4 714.7,165 714.9,168.2 715,169.6 715.2,166.3 715.4,164.2 715.5,169.1 715.7,168.3 715.9,167.6 716,168.4 716.2,165.5 716.3,170.5 716.5,167.6 716.7,165.1 716.8,167.7 717,165.4 717.2,168.1 717.3,168.5 717.5,169.7 717.7,162.8 717.8,166.8 718,165.8 718.2,166.3 718.3,165.9 718.5,166.1 718.7,162.7 718.8,168.2 719,169.2 719.2,168.1 719.3,168.7 719.5,167.8 719.7,164.7 719.8,168 720,168.8 720.2,166.9 720.3,163.6 720.5,171.5 720.7,165.3 720.8,168.3 721,164.3 721.2,168.3 721.3,166.8 721.5,169.1 721.6,168.1 721.8,163.6 722,164.7 722.1,167 722.3,164.9 722.5,169.8 722.6,167 722.8,166.3 723,166.4 723.1,166.4 723.3,168.3 723.5,166.4 723.6,166.3 723.8,163.8 724,162.7 724.1,166.5 724.3,167.7 724.5,166.4 724.6,167.4 724.8,167.6 725,166.3 725.1,168.1 725.3,165 725.5,166.3 725.6,165.5 725.8,166.3 726,167.3 726.1,167.6 726.3,166.2 726.5,166.7 726.6,165.1 726.8,165.5 726.9,168 727.1,165.2 727.3,167.7 727.4,166.3 727.6,165.5 727.8,168.8 727.9,164.6 728.1,164.4 728.3,164.8 728.4,165.2 728.6,165 728.8,166 728.9,164.6 729.1,165 729.3,163.6 729.4,166 729.6,163.1 729.8,163.2 729.9,163.6 730.1,164 730.3,162 730.4,166.2 730.6,161.9 730.8,162.3 730.9,162.1 731.1,161.8 731.3,163.7 731.4,162.8 731.6,161 731.8,161.3 731.9,161.6 732.1,164.9 732.2,160.8 732.4,159.5 732.6,159.7 732.7,161.2 732.9,164.7 733.1,159.7 733.2,161.8 733.4,166.5 733.6,160.7 733.7,164.4 733.9,164 734.1,162.7 734.2,158.9 734.4,162.2 734.6,160.9 734.7,158.1 734.9,158.5 735.1,161.9 735.2,162.3 735.4,164.4 735.6,163.5 735.7,161.4 735.9,161.6 736.1,162.4 736.2,160.8 736.4,164.4 736.6,163.2 736.7,161.9 736.9,162.4 737.1,161.6 737.2,163.1 737.4,167.2 737.5,163.5 737.7,166.3 737.9,167.6 738,163.5 738.2,164.9 738.4,164.3 738.5,166.5 738.7,165.7 738.9,166.3 739,166.8 739.2,169.5 739.4,165.8 739.5,163.5 739.7,165.4 739.9,166.4 740,165.4 740.2,162.3 740.4,170.6 740.5,165.6 740.7,164.4 740.9,164.2 741,162.3 741.2,163.4 741.4,164.9 741.5,165 741.7,164.1 741.9,165.7 742,165.7 742.2,163.9 742.4,162 742.5,166 742.7,165.8 742.8,165.3 743,163.2 743.2,165.8 743.3,163 743.5,162 743.7,166.2 743.8,166.2 744,164.4 744.2,163.9 744.3,168.7 744.5,167.6 744.7,165.3 744.8,167.2 745,168.8 745.2,164 745.3,165.1 745.5,165.1 745.7,166.9 745.8,164.1 746,166.5 746.2,164 746.3,167.8 746.5,167.7 746.7,165.7 746.8,167.4 747,164.9 747.2,165.7 747.3,167.9 747.5,166 747.7,166.9 747.8,164.5 748,167.4 748.1,167.1 748.3,164 748.5,162.1 748.6,162.5 748.8,166.2 749,165.9 749.1,163.4 749.3,166.5 749.5,168.1 749.6,166.1 749.8,165.5 750,167.9 750.1,169.4 750.3,169 750.5,165.1 750.6,167.8 750.8,166.6 751,166 751.1,165.2 751.3,167 751.5,165.5 751.6,168.1 751.8,167.1 752,168.3 752.1,164.3 752.3,166.5 752.5,167.8 752.6,167.1 752.8,166.8 753,165.1 753.1,169.4 753.3,168.4 753.4,167.1 753.6,161.7 753.8,164.7 753.9,166.7 754.1,165.1 754.3,162.6 754.4,166.9 754.6,167.1 754.8,164.2 754.9,165.5 755.1,165.2 755.3,167.4 755.4,162.9 755.6,163.3 755.8,165.4 755.9,165.2 756.1,170.2 756.3,170.3 756.4,166.8 756.6,165.6 756.8,165.1 756.9,167 757.1,169.6 757.3,165.7 757.4,167.8 757.6,171.1 757.8,167.5 757.9,167 758.1,170.6 758.3,164 758.4,165.8 758.6,164.2 758.7,162.6 758.9,166.2 759.1,169.6 759.2,167.9 759.4,168.5 759.6,167.1 759.7,166 759.9,169.9 760.1,165.5 760.2,168.9 760.4,165.5 760.6,166.3 760.7,166.6 760.9,166.2 761.1,167 761.2,167.1 761.4,169.1 761.6,166 761.7,162.4 761.9,162.2 762.1,163.4 762.2,164.5 762.4,167.1 762.6,163.1 762.7,165.8 762.9,165.8 763.1,166.2 763.2,165.5 763.4,166.4 763.6,165.8 763.7,167.6 763.9,164 764,161.2 764.2,165.6 764.4,165.9 764.5,164.4 764.7,164 764.9,167.5 765,165.7 765.2,160.7 765.4,164.7 765.5,165 765.7,162.3 765.9,166.4 766,165 766.2,166.1 766.4,162.2 766.5,168.7 766.7,166.3 766.9,166 767,163.7 767.2,163.7 767.4,162.2 767.5,167.8 767.7,163.4 767.9,165.3 768,166 768.2,163.6 768.4,166.4 768.5,168.6 768.7,165.3 768.9,167.4 769,165.7 769.2,163.8 769.3,163.8 769.5,161.4 769.7,164.7 769.8,167.3 770,165.7 770.2,166 770.3,166.5 770.5,163.3 770.7,165.4 770.8,167.9 771,162.7 771.2,164.2 771.3,163.3 771.5,163.8 771.7,162.7 771.8,163.8 772,161.5 772.2,163 772.3,163 772.5,162.9 772.7,166.5 772.8,164 773,164.1 773.2,163.2 773.3,166.2 773.5,160.4 773.7,163.3 773.8,165.8 774,166.7 774.2,163.9 774.3,163.5 774.5,164.7 774.7,163.1 774.8,164.5 775,162.1 775.1,164.6 775.3,163.2 775.5,161.2 775.6,158 775.8,164.9 776,163.9 776.1,164.5 776.3,161.3 776.5,165.1 776.6,163.7 776.8,162.8 777,164.6 777.1,164.5 777.3,161.4 777.5,166.7 777.6,165.3 777.8,163.3 778,162.1 778.1,162.7 778.3,165.8 778.5,163.2 778.6,160.7 778.8,161.1 779,162.3 779.1,163.8 779.3,160.8 779.5,163.1 779.6,164.2 779.8,163.5 780,159 780.1,161.4 780.3,159.5 780.4,162.6 780.6,159.8 780.8,162.8 780.9,161.8 781.1,156.6 781.3,159.9 781.4,162.4 781.6,161.5 781.8,160.6 781.9,158.8 782.1,162.1 782.3,164.6 782.4,161.6 782.6,161 782.8,160.7 782.9,158.3 783.1,160.2 783.3,159.2 783.4,162.9 783.6,158.9 783.8,156.4 783.9,159 784.1,160 784.3,160.1 784.4,156.8 784.6,162.2 784.8,160.5 784.9,159.3 785.1,158.7 785.3,161 785.4,159.4 785.6,160.5 785.7,159.7 785.9,160.1 786.1,162.1 786.2,159.8 786.4,157.9 786.6,161.6 786.7,160 786.9,158.2 787.1,161.6 787.2,159 787.4,161.5 787.6,157 787.7,154.5 787.9,155 788.1,159.5 788.2,156.7 788.4,158.9 788.6,158.7 788.7,155.7 788.9,161.5 789.1,156.6 789.2,158.7 789.4,155.7 789.6,158.1 789.7,159.8 789.9,157.8 790.1,156.8 790.2,158.2 790.4,157.2 790.6,159.2 790.7,162.5 790.9,156.2 791,156.5 791.2,157.6 791.4,157.7 791.5,155.6 791.7,158.7 791.9,159.1 792,158 792.2,155.1 792.4,160.3 792.5,154.9 792.7,158.7 792.9,159.6 793,154.6 793.2,153.5 793.4,159.8 793.5,157.8 793.7,155 793.9,154.4 794,157.7 794.2,155.9 794.4,155.2 794.5,158 794.7,155.9 794.9,156.6 795,157.6 795.2,160.4 795.4,156.2 795.5,156.2 795.7,157.4 795.9,157 796,153.8 796.2,155.6 796.3,154.1 796.5,153.4 796.7,154.6 796.8,151 797,152.2 797.2,154 797.3,156.3 797.5,151.6 797.7,151.9 797.8,159.5 798,157.4 798.2,153.9 798.3,153.6 798.5,153.6 798.7,155.3 798.8,154.1 799,153.6 799.2,155.1 799.3,152.7 799.5,159.6 799.7,153.4 799.8,156.9 800,152.6 800.2,155.1 800.3,156.4 800.5,153.7 800.7,156.3 800.8,156.3 801,157.6 801.2,154.3 801.3,153.1 801.5,151.9 801.6,154.3 801.8,151.7 802,153.9 802.1,154.1 802.3,152.6 802.5,151.5 802.6,154.4 802.8,154.1 803,153.9 803.1,153.3 803.3,155.4 803.5,151.2 803.6,154.2 803.8,152.2 804,155 804.1,152.3 804.3,152.2 804.5,153.9 804.6,148.6 804.8,152.1 805,149 805.1,150.7 805.3,154.1 805.5,153.5 805.6,151.6 805.8,152.4 806,152.3 806.1,153 806.3,156.3 806.5,152.8 806.6,157 806.8,151.3 806.9,154.5 807.1,153.6 807.3,152.4 807.4,151.3 807.6,155 807.8,155.6 807.9,154 808.1,156.1 808.3,153.7 808.4,148 808.6,153.8 808.8,150 808.9,154.3 809.1,150.6 809.3,151.9 809.4,151.3 809.6,149.8 809.8,147.1 809.9,150.5 810.1,150.6 810.3,153 810.4,149.5 810.6,151.2 810.8,148.8 810.9,150.7 811.1,146.6 811.3,154.8 811.4,151 811.6,148.3 811.8,151 811.9,151.9 812.1,150.7 812.2,153.1 812.4,149.7 812.6,144.5 812.7,147.3 812.9,152.3 813.1,151.7 813.2,150.6 813.4,147.3 813.6,151.4 813.7,151 813.9,147.1 814.1,147.4 814.2,150.1 814.4,154.4 814.6,152.6 814.7,150.6 814.9,154 815.1,147.2 815.2,150.3 815.4,147.7 815.6,144.5 815.7,146 815.9,151.2 816.1,146.5 816.2,145.8 816.4,151.7 816.6,150.5 816.7,148.5 816.9,151.8 817.1,144.8 817.2,153.5 817.4,150.5 817.5,148.5 817.7,148.3 817.9,147.4 818,147.1 818.2,148.1 818.4,145 818.5,152.4 818.7,147.4 818.9,149 819,147 819.2,138.3 819.4,149.2 819.5,148.5 819.7,145.2 819.9,146.1 820,148.4 820.2,142.1 820.4,141.4 820.5,150 820.7,150.3 820.9,140.7 821,148 821.2,145.8 821.4,146.8 821.5,147.5 821.7,146.6 821.9,147.3 822,144.3 822.2,146.8 822.4,146.9 822.5,148.6 822.7,145.8 822.8,147.7 823,146 823.2,143 823.3,144.5 823.5,144.1 823.7,144.4 823.8,145 824,145.4 824.2,145.7 824.3,143.2 824.5,147.4 824.7,141.6 824.8,144.6 825,146.4 825.2,145.7 825.3,146.1 825.5,144 825.7,146 825.8,141.6 826,146 826.2,149.4 826.3,145.7 826.5,148.7 826.7,143.9 826.8,141.3 827,142.2 827.2,146.8 827.3,145.3 827.5,139.2 827.7,142.6 827.8,143.3 828,140.7 828.1,137.3 828.3,140 828.5,142.6 828.6,142.1 828.8,141.3 829,144.2 829.1,145.2 829.3,142.4 829.5,144.8 829.6,142.6 829.8,142.1 830,136.6 830.1,144.2 830.3,142.4 830.5,142.4 830.6,140.9 830.8,139.3 831,142.9 831.1,143.6 831.3,145.5 831.5,143.7 831.6,140.1 831.8,141.2 832,143.7 832.1,142.1 832.3,141 832.5,139.8 832.6,142.4 832.8,141.4 833,145.2 833.1,143.5 833.3,136.6 833.4,145.8 833.6,141.2 833.8,139.8 833.9,141.1 834.1,142.1 834.3,140.2 834.4,140 834.6,140.1 834.8,144.4 834.9,140.1 835.1,141.7 835.3,140.9 835.4,138.9 835.6,137.8 835.8,137.1 835.9,143.2 836.1,136.8 836.3,136.1 836.4,136.1 836.6,135.4 836.8,139.1 836.9,139.1 837.1,136.5 837.3,141.9 837.4,137.9 837.6,139.6 837.8,139.1 837.9,139.7 838.1,140.3 838.3,138 838.4,135.7 838.6,135.3 838.8,137.9 838.9,138.1 839.1,139.6 839.2,136.4 839.4,138 839.6,135.7 839.7,132.8 839.9,137.2 840.1,142.9 840.2,139.1 840.4,140.5 840.6,139.7 840.7,133.3 840.9,136 841.1,140.3 841.2,134.7 841.4,133.1 841.6,137.1 841.7,137.8 841.9,136.9 842.1,135.2 842.2,134.2 842.4,132.7 842.6,132.5 842.7,132.5 842.9,132 843.1,133.7 843.2,139.2 843.4,137.1 843.6,136.2 843.7,136 843.9,132.6 844.1,135.7 844.2,137.1 844.4,130.9 844.5,132.8 844.7,133.9 844.9,132 845,131.5 845.2,133.3 845.4,140.4 845.5,135.7 845.7,135.1 845.9,139.8 846,133.2 846.2,130.5 846.4,134.8 846.5,136.4 846.7,128.1 846.9,134.4 847,136.4 847.2,132.5 847.4,131.9 847.5,134.7 847.7,130.7 847.9,134 848,135 848.2,132 848.4,130.4 848.5,134 848.7,131.4 848.9,132.4 849,124.6 849.2,133.8 849.4,128.2 849.5,131.9 849.7,132 849.8,129.6 850,129.1 850.2,128 850.3,130.4 850.5,132.7 850.7,132.5 850.8,129.6 851,129.3 851.2,127 851.3,129.5 851.5,127.7 851.7,126.4 851.8,129.9 852,134.2 852.2,133.3 852.3,133.8 852.5,125.7 852.7,132.1 852.8,126.4 853,128 853.2,124.9 853.3,126.7 853.5,129.6 853.7,129.7 853.8,128.8 854,128.5 854.2,130.3 854.3,128.8 854.5,124.3 854.7,133.1 854.8,127.7 855,130.8 855.1,127.7 855.3,125.8 855.5,128.2 855.6,125.8 855.8,132.1 856,124.7 856.1,129.1 856.3,125.8 856.5,126.9 856.6,134.3 856.8,129.2 857,126.5 857.1,122.7 857.3,126.1 857.5,126 857.6,130.5 857.8,122.6 858,121.5 858.1,126.2 858.3,126.8 858.5,130.6 858.6,123.6 858.8,118.4 859,123.8 859.1,122.2 859.3,124.1 859.5,128.2 859.6,121.7 859.8,128.7 860,125.8 860.1,124.3 860.3,122.5 860.4,123.7 860.6,123.7 860.8,126.8 860.9,128.2 861.1,124.3 861.3,126.3 861.4,127.9 861.6,127.7 861.8,125.4 861.9,129.1 862.1,130.8 862.3,128.6 862.4,123.1 862.6,122.4 862.8,117.8 862.9,127.6 863.1,125.2 863.3,120.6 863.4,123.7 863.6,126 863.8,118.1 863.9,123.7 864.1,126 864.3,126.3 864.4,121.6 864.6,121.6 864.8,126.2 864.9,125 865.1,120.6 865.3,120.4 865.4,123.8 865.6,120.1 865.7,125.7 865.9,126.8 866.1,122.5 866.2,120.3 866.4,123.1 866.6,127.5 866.7,122.1 866.9,119 867.1,116.6 867.2,127.3 867.4,113.4 867.6,124.1 867.7,118 867.9,117.1 868.1,113.1 868.2,120.1 868.4,123.8 868.6,118.5 868.7,122.3 868.9,127.5 869.1,111.9 869.2,118 869.4,114.7 869.6,122.5 869.7,115.5 869.9,115.1 870.1,115.1 870.2,119.6 870.4,122.9 870.6,119.8 870.7,125.6 870.9,124.1 871,118.8 871.2,121.8 871.4,119.4 871.5,119.1 871.7,113.1 871.9,114.8 872,118.6 872.2,114.9 872.4,120.6 872.5,122.6 872.7,115.5 872.9,121.7 873,118.8 873.2,121.7 873.4,117.4 873.5,112.9 873.7,119.8 873.9,116.8 874,120.1 874.2,120.7 874.4,120.9 874.5,112.8 874.7,110.1 874.9,123.9 875,119 875.2,114.7 875.4,117.7 875.5,114.2 875.7,115.6 875.9,115.6 876,114.5 876.2,118 876.3,117.4 876.5,121.2 876.7,117.3 876.8,120.1 877,116.2 877.2,118.6 877.3,115.3 877.5,114.2 877.7,119.7 877.8,117.8 878,118.1 878.2,113 878.3,110 878.5,112.5 878.7,116 878.8,110.5 879,119.3 879.2,110.2 879.3,116.6 879.5,122.9 879.7,106.5 879.8,109.6 880,117.4 880.2,116.9 880.3,114.8 880.5,113.8 880.7,118.5 880.8,116 881,112.5 881.2,113.1 881.3,110.1 881.5,113.4 881.6,106.5 881.8,115.7 882,112.7 882.1,119.2 882.3,117.1 882.5,109.2 882.6,116.1 882.8,111.5 883,113.3 883.1,116.2 883.3,114 883.5,114.5 883.6,114.3 883.8,110.5 884,110.7 884.1,114.4 884.3,115.4 884.5,111.7 884.6,112.8 884.8,109.3 885,104.3 885.1,109.8 885.3,112.4 885.5,112.8 885.6,118.7 885.8,115 886,115.2 886.1,113.3 886.3,110.6 886.5,109.8 886.6,113.2 886.8,112.6 886.9,117.6 887.1,106.9 887.3,110.3 887.4,106.4 887.6,109.4 887.8,107.3 887.9,112.6 888.1,109.6 888.3,103.5 888.4,115.5 888.6,108.1 888.8,106.5 888.9,110.4 889.1,109.4 889.3,107.8 889.4,113.8 889.6,110.4 889.8,114.4 889.9,113.8 890.1,113.6 890.3,112.1 890.4,111.2 890.6,110.3 890.8,116.1 890.9,105.5 891.1,108.1 891.3,109.4 891.4,112.8 891.6,112 891.8,110 891.9,110.4 892.1,117 892.2,109.4 892.4,102.5 892.6,117.5 892.7,108.6 892.9,110.6 893.1,112.1 893.2,107.4 893.4,115.5 893.6,111.3 893.7,107.2 893.9,112.4 894.1,113.1 894.2,111.4 894.4,113.2 894.6,106.9 894.7,114.7 894.9,109.1 895.1,115.8 895.2,109.7 895.4,112.2 895.6,120 895.7,111.9 895.9,115.3 896.1,113.3 896.2,107.1 896.4,115.5 896.6,115.3 896.7,107.4 896.9,111.6 897.1,107.1 897.2,111 897.4,114.8 897.5,112.2 897.7,108.2 897.9,109.1 898,112.1 898.2,111.9 898.4,112.4 898.5,113.9 898.7,106 898.9,112.1 899,115.7 899.2,113.7 899.4,109.9 899.5,110.2 899.7,112.6 899.9,114.3 900,112.2 900.2,117.5 900.4,116.4 900.5,109.8 900.7,113.8 900.9,111.2 901,108.5 901.2,110.3 901.4,112.3 901.5,105.7 901.7,110.3 901.9,113.6 902,110.2 902.2,111.2 902.4,115.2 902.5,112.3 902.7,113.1 902.8,118.7 903,113.1 903.2,113.5 903.3,114 903.5,117.8 903.7,113.8 903.8,112.8 904,112.4 904.2,116.3 904.3,110.8 904.5,116.6 904.7,113.5 904.8,108.7 905,115 905.2,114.4 905.3,109.5 905.5,114.1 905.7,113.8 905.8,112.2 906,109.7 906.2,119.9 906.3,115.6 906.5,116.2 906.7,116.4 906.8,115.7 907,115.7 907.2,112.2 907.3,121.2 907.5,112.8 907.7,111.9 907.8,115.5 908,112.8 908.2,108.2 908.3,112.3 908.5,115.3 908.6,113.5 908.8,116.2 909,112.5 909.1,110.7 909.3,116 909.5,114.1 909.6,110 909.8,115 910,112.9 910.1,116.7 910.3,116.1 910.5,115.2 910.6,107 910.8,114.9 911,115.3 911.1,115.4 911.3,114.2 911.5,111.8 911.6,113.2 911.8,107.6 912,113.2 912.1,109.5 912.3,113 912.5,112.1 912.6,118.3 912.8,114.3 913,114.2 913.1,114.7 913.3,120.5 913.5,111.4 913.6,115.2 913.8,115.4 913.9,114.9 914.1,114.8 914.3,112.9 914.4,118 914.6,117 914.8,113.4 914.9,113.8 915.1,115.4 915.3,116 915.4,116.9 915.6,114.5 915.8,110.8 915.9,117.6 916.1,109.9 916.3,111.9 916.4,115.9 916.6,112.2 916.8,119 916.9,119.8 917.1,118.5 917.3,115.8 917.4,115.6 917.6,116.2 917.8,114.4 917.9,121.1 918.1,113.2 918.3,119 918.4,116.8 918.6,116 918.8,116.9 918.9,119 919.1,117.9 919.2,114.9 919.4,113.2 919.6,113.3 919.7,118 919.9,117.4 920.1,117.8 920.2,113.7 920.4,121.2 920.6,111.4 920.7,116.6 920.9,117.5 921.1,114.2 921.2,112.1 921.4,114.2 921.6,112.1 921.7,114.9 921.9,111.6 922.1,111.6 922.2,115.6 922.4,111.1 922.6,114.9 922.7,115.2 922.9,118.2 923.1,116.3 923.2,113.2 923.4,119.5 923.6,113.6 923.7,109.6 923.9,114.8 924.1,122.2 924.2,116 924.4,113.8 924.5,118 924.7,115.5 924.9,122.9 925,113.8 925.2,117.8 925.4,113.3 925.5,121.4 925.7,113.9 925.9,116.7 926,113.6 926.2,118.8 926.4,117.9 926.5,109.4 926.7,118.6 926.9,118.2 927,117 927.2,119.2 927.4,112.7 927.5,111.1 927.7,118.4 927.9,121.5 928,112.9 928.2,113.1 928.4,114 928.5,113 928.7,119.1 928.9,118.8 929,120.7 929.2,120.8 929.4,113.7 929.5,118.6 929.7,109.9 929.8,116.5 930,118.6 930.2,114.4 930.3,111.5 930.5,115.4 930.7,120.5 930.8,115.8 931,112.9 931.2,118.4 931.3,119.3 931.5,114 931.7,116.7 931.8,120.4 932,118.3 932.2,119.4 932.3,116.3 932.5,116.9 932.7,113.9 932.8,115.2 933,122 933.2,116.2 933.3,114.8 933.5,116.1 933.7,114.5 933.8,119.1 934,120.4 934.2,114.9 934.3,120.8 934.5,124 934.7,114.7 934.8,119.9 935,118.7 935.1,121.9 935.3,121.7 935.5,121.3 935.6,119 935.8,116.9 936,124.7 936.1,115.8 936.3,121.5 936.5,121.2 936.6,116.1 936.8,118.4 937,122.7 937.1,112.8 937.3,120.8 937.5,117.6 937.6,117.8 937.8,114.2 938,119.7 938.1,115.5 938.3,120.6 938.5,115.2 938.6,120.8 938.8,119.6 939,113.1 939.1,117.7 939.3,118.4 939.5,112.2 939.6,125.2 939.8,121.2 940,116.7 940.1,122.3 940.3,115.6 940.4,115.4 940.6,120.7 940.8,120.9 940.9,118.6 941.1,119.1 941.3,122 941.4,117.5 941.6,125.1 941.8,120.5 941.9,120.5 942.1,120.1 942.3,118.5 942.4,123 942.6,117.7 942.8,120 942.9,121.5 943.1,123.5 943.3,122.3 943.4,118.6 943.6,122.5 943.8,119.5 943.9,116.7 944.1,116.8 944.3,115.3 944.4,120.7 944.6,123 944.8,117 944.9,119.1 945.1,116.8 945.3,120 945.4,116.6 945.6,127.5 945.7,118.1 945.9,118.7 946.1,119.1 946.2,119.6 946.4,119.7 946.6,117.5 946.7,121.9 946.9,115.4 947.1,120.8 947.2,117.7 947.4,120.8 947.6,121.3 947.7,114.8 947.9,121.5 948.1,124.3 948.2,122.8 948.4,121.7 948.6,114.6 948.7,120.2 948.9,118.2 949.1,123.8 949.2,119.9 949.4,123.6 949.6,117 949.7,123 949.9,119.4 950.1,120.3 950.2,124.1 950.4,113.2 950.6,122 950.7,127.9 950.9,119.6 951,119.8 951.2,122.6 951.4,125.3 951.5,111.7 951.7,120.8 951.9,118.6 952,117.6 952.2,123.1 952.4,119.4 952.5,122.4 952.7,121.9 952.9,122 953,121.8 953.2,118.7 953.4,121.6 953.5,126.1 953.7,122.8 953.9,121.1 954,124.6 954.2,123.5 954.4,122.3 954.5,123.8 954.7,122.6 954.9,124 955,116.6 955.2,118.6 955.4,121.1 955.5,122.6 955.7,116.3 955.9,121.6 956,122.8 956.2,121.7 956.3,121.8 956.5,118.7 956.7,122.8 956.8,116.8 957,125.3 957.2,120.9 957.3,125.7 957.5,117.8 957.7,123.9 957.8,123.2 958,120.4 958.2,119.5 958.3,126.3 958.5,124.1 958.7,127.1 958.8,122.9 959,123.6 959.2,124.3 959.3,125.3 959.5,124.5 959.7,125.6 959.8,122 960,119.3 960.2,129 960.3,124 960.5,124.8 960.7,122.3 960.8,126.4 961,124.2 961.2,126.8 961.3,121.9 961.5,123.7 961.6,124.4 961.8,123 962,124.8 962.1,128.5 962.3,122.5 962.5,123.4 962.6,124.7 962.8,121.5 963,120.9 963.1,127.4 963.3,126.6 963.5,120.1 963.6,120.5 963.8,126.6 964,127.9 964.1,126.4 964.3,126.1 964.5,129.1 964.6,124.7 964.8,128.4 965,128.2 965.1,122.3 965.3,126.8 965.5,125.2 965.6,123.3 965.8,122.8 966,126 966.1,125 966.3,127.5 966.5,120.4 966.6,123.5 966.8,128.4 966.9,125.4 967.1,123.5 967.3,124.1 967.4,120.5 967.6,121.8 967.8,127.1 967.9,125.9 968.1,129.2 968.3,125.1 968.4,125.4 968.6,118.4 968.8,125.6 968.9,131.7 969.1,127.8 969.3,125.7 969.4,129.5 969.6,128.5" fill="none" stroke="#000" stroke-width="1.15" stroke-linejoin="round"/>
<polyline clip-path="url(#cbl)" points="638.5,200.7 638.7,192.6 638.8,195 639,200.2 639.2,206.1 639.3,201.5 639.5,197.7 639.7,209 639.8,212.7 640,207.7 640.2,218.5 640.3,223 640.5,216.8 640.7,219.6 640.8,219.5 641,222.3 641.2,220.3 641.3,224.4 641.5,227.7 641.6,228.9 641.8,226.2 642,226.7 642.1,228.7 642.3,246.2 642.5,248.9 642.6,241.5 642.8,240.5 643,240.2 643.1,248.7 643.3,238.8 643.5,244.6 643.6,249.5 643.8,248 644,251.2 644.1,254 644.3,250.7 644.5,255.3 644.6,259.9 644.8,258.3 645,257.6 645.1,262.1 645.3,255.2 645.5,264.3 645.6,255.8 645.8,259.8 646,267 646.1,264.4 646.3,262 646.5,267.4 646.6,271.7 646.8,268.3 646.9,263.2 647.1,275.2 647.3,269.5 647.4,272.1 647.6,273.3 647.8,274.9 647.9,275.4 648.1,271.9 648.3,273.9 648.4,279.4 648.6,272.2 648.8,281.5 648.9,276.2 649.1,278.2 649.3,275.7 649.4,290.1 649.6,277.3 649.8,281.1 649.9,278.6 650.1,281 650.3,276.2 650.4,285.1 650.6,280 650.8,282.6 650.9,283.9 651.1,286.5 651.3,284.1 651.4,290 651.6,290.1 651.8,284.6 651.9,291.5 652.1,283.4 652.2,288.7 652.4,287.6 652.6,291.7 652.7,287.9 652.9,290.2 653.1,290.9 653.2,290.6 653.4,287.7 653.6,287.8 653.7,287.8 653.9,290.7 654.1,292.6 654.2,296.9 654.4,291 654.6,290.8 654.7,294.5 654.9,291.6 655.1,290.7 655.2,294.3 655.4,292.1 655.6,294.5 655.7,300.2 655.9,297.3 656.1,297.5 656.2,295.4 656.4,299.4 656.6,298.7 656.7,300.4 656.9,298.3 657.1,298.4 657.2,296.4 657.4,297.2 657.5,299.1 657.7,299.2 657.9,299.8 658,300 658.2,296.6 658.4,307 658.5,301.4 658.7,300.3 658.9,298.4 659,304.1 659.2,300.6 659.4,299.3 659.5,302.6 659.7,306.3 659.9,302.3 660,304.2 660.2,298.9 660.4,302.8 660.5,295.7 660.7,299.5 660.9,301.4 661,300.1 661.2,301.1 661.4,296.7 661.5,295.8 661.7,297.1 661.9,293.5 662,297.7 662.2,293.6 662.4,287.7 662.5,296.9 662.7,289 662.8,288.4 663,295.9 663.2,293.8 663.3,291.5 663.5,284.9 663.7,287.5 663.8,285.2 664,281 664.2,280.9 664.3,278.5 664.5,278 664.7,271.2 664.8,274.8 665,264.4 665.2,268.4 665.3,267.3 665.5,260 665.7,258.2 665.8,264.3 666,254.4 666.2,258.1 666.3,254.6 666.5,247.4 666.7,252.4 666.8,247.2 667,249.7 667.2,241.3 667.3,249.2 667.5,254 667.7,255 667.8,255.8 668,254 668.1,264.2 668.3,255.7 668.5,261 668.6,263.8 668.8,265.9 669,270.2 669.1,271.6 669.3,272.8 669.5,275.5 669.6,282 669.8,288 670,287.3 670.1,286.3 670.3,295.9 670.5,292 670.6,291.2 670.8,295.6 671,298.6 671.1,292.6 671.3,295.1 671.5,300.7 671.6,298.1 671.8,299.5 672,306.8 672.1,298.7 672.3,308.6 672.5,305.3 672.6,311.1 672.8,309.4 673,313.6 673.1,311.4 673.3,309.7 673.4,312.4 673.6,314.1 673.8,310.6 673.9,316.5 674.1,312.6 674.3,315.7 674.4,314.8 674.6,315.4 674.8,315.5 674.9,316.1 675.1,317.9 675.3,317.7 675.4,320.2 675.6,317.1 675.8,319.6 675.9,318.8 676.1,319 676.3,317.8 676.4,317.5 676.6,317.9 676.8,319.7 676.9,318.5 677.1,321.6 677.3,325 677.4,319.2 677.6,322.7 677.8,321.4 677.9,322.1 678.1,318.4 678.3,322.5 678.4,319.5 678.6,321.3 678.7,323 678.9,323.7 679.1,319.7 679.2,320 679.4,319.4 679.6,317.3 679.7,320.7 679.9,315.6 680.1,321.8 680.2,321.4 680.4,322.5 680.6,323.8 680.7,317.9 680.9,326 681.1,321.7 681.2,326.1 681.4,322.2 681.6,324.6 681.7,323.1 681.9,323.8 682.1,325.1 682.2,323.1 682.4,324 682.6,324.3 682.7,321.9 682.9,325.6 683.1,327.5 683.2,324.8 683.4,322.8 683.6,323.6 683.7,323.4 683.9,325.9 684,325.6 684.2,325.8 684.4,323.8 684.5,322.7 684.7,322.1 684.9,325.4 685,324.3 685.2,327.8 685.4,329 685.5,326.4 685.7,332.5 685.9,327.9 686,328.4 686.2,323.8 686.4,326.6 686.5,328.4 686.7,320.4 686.9,324.8 687,325.8 687.2,323.9 687.4,326.8 687.5,322.2 687.7,328.4 687.9,328 688,329.9 688.2,327.1 688.4,322.8 688.5,328.8 688.7,327.2 688.9,325.3 689,324.7 689.2,323.9 689.3,325.2 689.5,321.6 689.7,326.9 689.8,325.7 690,324.4 690.2,326.8 690.3,326.8 690.5,327.2 690.7,327.6 690.8,328.6 691,327.5 691.2,329.5 691.3,325.8 691.5,329.7 691.7,322.6 691.8,323.3 692,324.5 692.2,327.2 692.3,327.9 692.5,324.5 692.7,326.5 692.8,321.5 693,328.4 693.2,325 693.3,328.6 693.5,326.9 693.7,330.5 693.8,328.5 694,326.3 694.2,324.1 694.3,328.2 694.5,325.9 694.6,327.6 694.8,325.1 695,332.2 695.1,326.5 695.3,326.6 695.5,330.6 695.6,330.2 695.8,326 696,329.8 696.1,329 696.3,326.7 696.5,328.5 696.6,327 696.8,329.7 697,327.4 697.1,326 697.3,327.5 697.5,332.4 697.6,326.9 697.8,328.1 698,330 698.1,326.6 698.3,331.7 698.5,324.8 698.6,329.6 698.8,325.4 699,328.6 699.1,331.1 699.3,328.4 699.5,328 699.6,327.6 699.8,326.6 699.9,330.4 700.1,327.8 700.3,327.4 700.4,329.3 700.6,334.8 700.8,330.7 700.9,327.5 701.1,327.4 701.3,330.6 701.4,331.6 701.6,326.7 701.8,332 701.9,328.8 702.1,330.7 702.3,332.5 702.4,329 702.6,329.6 702.8,326.6 702.9,325 703.1,329.7 703.3,327.4 703.4,327.4 703.6,330.4 703.8,331.1 703.9,326.5 704.1,330.2 704.3,329.6 704.4,330.1 704.6,329.9 704.8,330.8 704.9,328.3 705.1,327.3 705.3,330.4 705.4,332.4 705.6,329.7 705.7,332.6 705.9,331.1 706.1,327.6 706.2,325.5 706.4,329.2 706.6,332 706.7,328.5 706.9,334.2 707.1,331.3 707.2,327.2 707.4,328.7 707.6,332.7 707.7,333.3 707.9,328.6 708.1,330.3 708.2,331.3 708.4,329.5 708.6,331.3 708.7,333.9 708.9,328.8 709.1,331.5 709.2,332.2 709.4,332.9 709.6,329.9 709.7,331.9 709.9,329.3 710.1,331 710.2,321.3 710.4,331.2 710.6,331.7 710.7,334.2 710.9,332.6 711,329.2 711.2,324.9 711.4,333 711.5,332.6 711.7,330 711.9,329.8 712,332 712.2,330.6 712.4,333.7 712.5,331.3 712.7,331.1 712.9,327.7 713,331.1 713.2,328.2 713.4,330 713.5,328.8 713.7,330 713.9,332.3 714,330.2 714.2,329.1 714.4,332.3 714.5,333.4 714.7,330 714.9,330.3 715,329.2 715.2,330.8 715.4,332.2 715.5,331.8 715.7,332.9 715.9,332.8 716,332.1 716.2,332 716.3,329 716.5,333.4 716.7,331.2 716.8,332.2 717,328.4 717.2,330.6 717.3,331.8 717.5,329.6 717.7,331 717.8,332 718,328.3 718.2,329.9 718.3,328 718.5,329 718.7,329.8 718.8,331 719,333.2 719.2,329.9 719.3,331.1 719.5,330 719.7,331.2 719.8,332.5 720,333.1 720.2,330 720.3,328.9 720.5,331.8 720.7,330.4 720.8,328.7 721,332.8 721.2,331.9 721.3,333.3 721.5,329.1 721.6,330.8 721.8,330.8 722,334.3 722.1,331.6 722.3,329.4 722.5,331.8 722.6,332.1 722.8,330.1 723,333.6 723.1,331.2 723.3,330.2 723.5,332.7 723.6,332.8 723.8,330.8 724,331.5 724.1,331.7 724.3,330.9 724.5,330.9 724.6,333 724.8,332.5 725,330.5 725.1,329.2 725.3,328.8 725.5,332.9 725.6,329.3 725.8,329.9 726,331.4 726.1,330.2 726.3,329.8 726.5,328 726.6,333.3 726.8,330.2 726.9,331.6 727.1,331.7 727.3,329.2 727.4,329.8 727.6,333.2 727.8,331.8 727.9,330.9 728.1,338.3 728.3,329.7 728.4,331.5 728.6,331 728.8,330.7 728.9,328 729.1,338.1 729.3,332 729.4,328.1 729.6,332.3 729.8,332.3 729.9,333.9 730.1,329.4 730.3,330.8 730.4,330.5 730.6,331 730.8,331.3 730.9,332.8 731.1,332.8 731.3,330.6 731.4,331.1 731.6,328.3 731.8,332.8 731.9,320.7 732.1,333.2 732.2,328.8 732.4,333.6 732.6,329.9 732.7,328.7 732.9,331.6 733.1,330 733.2,335.3 733.4,332.1 733.6,334.4 733.7,331.1 733.9,331.4 734.1,332.8 734.2,329.6 734.4,330.7 734.6,332.3 734.7,332.3 734.9,334.1 735.1,331.7 735.2,327.5 735.4,332.7 735.6,330.6 735.7,332.4 735.9,329.9 736.1,330.6 736.2,331.8 736.4,334.7 736.6,332.3 736.7,329.2 736.9,331.8 737.1,330.2 737.2,332.3 737.4,334.8 737.5,330.6 737.7,333.9 737.9,332.5 738,332.1 738.2,330.9 738.4,332.5 738.5,327.3 738.7,331.8 738.9,335.7 739,331.7 739.2,332.5 739.4,332.9 739.5,330.7 739.7,332.3 739.9,330.4 740,329.4 740.2,331.1 740.4,334.2 740.5,332.7 740.7,329.7 740.9,331.9 741,332.9 741.2,331.6 741.4,330.5 741.5,330.9 741.7,330.2 741.9,332.9 742,331.9 742.2,331.9 742.4,331.5 742.5,335.3 742.7,331.8 742.8,333.9 743,328.9 743.2,328.6 743.3,328.3 743.5,329.9 743.7,332.3 743.8,329.7 744,331.8 744.2,330.3 744.3,333.1 744.5,332.5 744.7,330.6 744.8,328.2 745,331.5 745.2,327.3 745.3,326.4 745.5,333.8 745.7,326.3 745.8,333.2 746,331.7 746.2,332.4 746.3,331.5 746.5,329.7 746.7,329.7 746.8,330.9 747,331.4 747.2,331.2 747.3,331.2 747.5,332 747.7,331.4 747.8,330.5 748,333.8 748.1,330 748.3,328.2 748.5,331.1 748.6,334 748.8,328.9 749,332 749.1,336.9 749.3,331.8 749.5,330.3 749.6,330.7 749.8,329.2 750,330.3 750.1,331.2 750.3,335.1 750.5,333.5 750.6,331.1 750.8,330.2 751,333.3 751.1,332.6 751.3,330.6 751.5,334.9 751.6,335 751.8,331.9 752,331 752.1,332.3 752.3,335.6 752.5,331.4 752.6,333.9 752.8,330.2 753,331.6 753.1,330.9 753.3,330.3 753.4,332.4 753.6,329.9 753.8,329.2 753.9,330.7 754.1,329 754.3,332.6 754.4,329.8 754.6,330.9 754.8,333.3 754.9,331.6 755.1,332.4 755.3,332.5 755.4,331.3 755.6,329.5 755.8,332 755.9,331.2 756.1,334.1 756.3,331.2 756.4,329.3 756.6,329.9 756.8,330.6 756.9,332.4 757.1,333.2 757.3,331.6 757.4,333.9 757.6,333.7 757.8,329.7 757.9,333.1 758.1,328.1 758.3,334.1 758.4,330.6 758.6,333.6 758.7,331.1 758.9,333.4 759.1,331.4 759.2,331.7 759.4,332.3 759.6,330.5 759.7,328.6 759.9,332.5 760.1,329.8 760.2,331.2 760.4,331.4 760.6,327.3 760.7,335.4 760.9,332.6 761.1,334.7 761.2,331.9 761.4,336.4 761.6,324.3 761.7,330.6 761.9,328 762.1,328.9 762.2,332 762.4,330.3 762.6,328.1 762.7,330.9 762.9,334.7 763.1,332.9 763.2,333.9 763.4,332.6 763.6,330.4 763.7,330 763.9,332.7 764,331.6 764.2,331.2 764.4,331.2 764.5,329.6 764.7,330.7 764.9,330.5 765,333.4 765.2,330.2 765.4,330.2 765.5,333.7 765.7,330.2 765.9,331.9 766,332.1 766.2,332.4 766.4,331.8 766.5,332.1 766.7,331.8 766.9,330.4 767,325.3 767.2,334.3 767.4,330.4 767.5,330.8 767.7,328.5 767.9,330.9 768,334.8 768.2,327.7 768.4,332.2 768.5,330.2 768.7,332.6 768.9,332.1 769,330.9 769.2,328.3 769.3,328.3 769.5,331 769.7,328.9 769.8,330.5 770,329.5 770.2,329.4 770.3,328.5 770.5,330.7 770.7,329.8 770.8,329.1 771,329.3 771.2,330.9 771.3,326.1 771.5,330.2 771.7,327.8 771.8,328.8 772,326.9 772.2,333.3 772.3,325.2 772.5,329.4 772.7,331.3 772.8,328.7 773,324.6 773.2,327.9 773.3,331.1 773.5,329.6 773.7,326.1 773.8,331.3 774,328.9 774.2,329.1 774.3,324.3 774.5,329 774.7,325.9 774.8,329.6 775,329.8 775.1,326.3 775.3,327 775.5,331.4 775.6,326.9 775.8,326.8 776,329.2 776.1,327.5 776.3,327.4 776.5,328.8 776.6,328.9 776.8,329 777,328.2 777.1,330.2 777.3,327.7 777.5,330.4 777.6,327.3 777.8,327.6 778,329.4 778.1,325.7 778.3,323.5 778.5,324.7 778.6,329.8 778.8,324.7 779,326.6 779.1,329.7 779.3,328.1 779.5,324.6 779.6,324.2 779.8,325.8 780,327.6 780.1,328 780.3,327.5 780.4,325.5 780.6,322.9 780.8,328.6 780.9,326.4 781.1,327.1 781.3,327.8 781.4,325.5 781.6,322.1 781.8,328.9 781.9,328.1 782.1,323.7 782.3,325.3 782.4,324.9 782.6,326.8 782.8,326.5 782.9,324.8 783.1,326.6 783.3,327.7 783.4,325.5 783.6,323.6 783.8,327.4 783.9,323.2 784.1,323.8 784.3,326.8 784.4,325 784.6,325 784.8,323.6 784.9,323.5 785.1,327.3 785.3,327.3 785.4,322.5 785.6,324.3 785.7,323.6 785.9,323.7 786.1,321.2 786.2,326.6 786.4,321.9 786.6,325.7 786.7,322.5 786.9,321.2 787.1,326.5 787.2,322.9 787.4,329.4 787.6,324.1 787.7,323.4 787.9,325.5 788.1,325.2 788.2,321.9 788.4,321.4 788.6,324.2 788.7,325.9 788.9,318.1 789.1,320.5 789.2,321.9 789.4,324.7 789.6,323.7 789.7,321.9 789.9,324.3 790.1,319 790.2,321.9 790.4,321.3 790.6,324.1 790.7,323.7 790.9,323.4 791,321.1 791.2,322.2 791.4,322.1 791.5,320.8 791.7,320.9 791.9,318.2 792,321.6 792.2,323.2 792.4,321 792.5,317.9 792.7,322 792.9,320.6 793,321.4 793.2,319.7 793.4,319.9 793.5,322.1 793.7,320.8 793.9,318.3 794,317.8 794.2,318.1 794.4,318.2 794.5,320.6 794.7,320.5 794.9,317.8 795,322 795.2,319.6 795.4,323.3 795.5,320.1 795.7,320.7 795.9,321.7 796,317.9 796.2,320.6 796.3,319.7 796.5,319.4 796.7,320.3 796.8,315.7 797,319.6 797.2,318.1 797.3,321.2 797.5,319.4 797.7,319 797.8,318.9 798,319.4 798.2,317.7 798.3,314.7 798.5,318.2 798.7,318.1 798.8,318.6 799,312.3 799.2,314.2 799.3,316.3 799.5,316 799.7,318.9 799.8,317.6 800,316.8 800.2,316.9 800.3,318.9 800.5,318.7 800.7,315.9 800.8,316.2 801,321.3 801.2,316.6 801.3,314 801.5,318 801.6,316.1 801.8,319.6 802,314.7 802.1,318.8 802.3,322.7 802.5,316.9 802.6,311.1 802.8,317.4 803,318.8 803.1,315 803.3,315.4 803.5,312.3 803.6,319 803.8,319.2 804,316.4 804.1,314.8 804.3,314.8 804.5,313.2 804.6,318.7 804.8,317.2 805,315.6 805.1,313.5 805.3,314.2 805.5,316.1 805.6,317.3 805.8,313.1 806,312.9 806.1,309 806.3,315.3 806.5,311.3 806.6,317.4 806.8,315.9 806.9,316.2 807.1,315.6 807.3,316.5 807.4,315.7 807.6,314.6 807.8,315.4 807.9,312.9 808.1,314.5 808.3,314.2 808.4,310.9 808.6,313.4 808.8,313.7 808.9,314.1 809.1,313.8 809.3,312.6 809.4,315.6 809.6,311.3 809.8,310.3 809.9,311.1 810.1,314.7 810.3,317.1 810.4,314.5 810.6,313.1 810.8,311.6 810.9,313.8 811.1,314 811.3,309.9 811.4,314.7 811.6,310.8 811.8,311.1 811.9,316 812.1,311.1 812.2,314.1 812.4,315 812.6,316.9 812.7,316.2 812.9,311.8 813.1,313.5 813.2,313.9 813.4,314.9 813.6,313.2 813.7,313 813.9,315.8 814.1,316 814.2,311.2 814.4,311.8 814.6,314.2 814.7,312.3 814.9,310.5 815.1,307.8 815.2,313.8 815.4,310.4 815.6,307 815.7,311.5 815.9,308.3 816.1,317.3 816.2,308.2 816.4,311.4 816.6,315.6 816.7,309.5 816.9,308.8 817.1,308.4 817.2,308.4 817.4,311.1 817.5,312.6 817.7,311.9 817.9,310.9 818,309.8 818.2,311.8 818.4,310.5 818.5,308.5 818.7,309.7 818.9,305.2 819,305.4 819.2,312.9 819.4,311.5 819.5,313.1 819.7,312.7 819.9,308.7 820,312.1 820.2,312.2 820.4,310.3 820.5,307.8 820.7,310.4 820.9,310.3 821,307.3 821.2,308.2 821.4,308.2 821.5,306.9 821.7,311.4 821.9,308.5 822,310.3 822.2,300 822.4,306.8 822.5,311 822.7,305.4 822.8,311.2 823,305.6 823.2,307.8 823.3,310.2 823.5,310.7 823.7,315.2 823.8,307.9 824,309.5 824.2,306.4 824.3,313.6 824.5,307.5 824.7,307.4 824.8,311.7 825,306.5 825.2,310.1 825.3,312.9 825.5,308.4 825.7,307.4 825.8,304.6 826,307.8 826.2,303 826.3,303 826.5,303.7 826.7,303.1 826.8,305.3 827,307.3 827.2,304.4 827.3,303.5 827.5,305.1 827.7,306.2 827.8,309.2 828,303.8 828.1,302.5 828.3,308.3 828.5,304.8 828.6,303.2 828.8,305.1 829,302.8 829.1,302.8 829.3,308.1 829.5,305.1 829.6,303.1 829.8,301.9 830,300.6 830.1,308.6 830.3,304 830.5,302 830.6,300.6 830.8,299.4 831,305.7 831.1,304.2 831.3,305.7 831.5,301 831.6,306.2 831.8,299.9 832,300.4 832.1,301.4 832.3,307.8 832.5,304 832.6,300.4 832.8,305.6 833,302.6 833.1,302.1 833.3,299.5 833.4,300.9 833.6,300.8 833.8,302.5 833.9,301.3 834.1,301.5 834.3,299.2 834.4,301.4 834.6,298.2 834.8,304.9 834.9,297.6 835.1,300.9 835.3,297.5 835.4,300 835.6,297.9 835.8,296.2 835.9,301.2 836.1,299.5 836.3,300 836.4,299 836.6,303.5 836.8,299.7 836.9,299.8 837.1,301 837.3,299.4 837.4,302.7 837.6,295.1 837.8,297.4 837.9,293.6 838.1,309.3 838.3,301.2 838.4,297.3 838.6,302.2 838.8,297.2 838.9,299.5 839.1,298.4 839.2,296.8 839.4,297.2 839.6,292.4 839.7,295.5 839.9,300.3 840.1,294.3 840.2,300.2 840.4,296.4 840.6,299.7 840.7,298.5 840.9,292.8 841.1,297.6 841.2,297.7 841.4,297.4 841.6,296.6 841.7,291.9 841.9,298.6 842.1,298.7 842.2,293.8 842.4,299.4 842.6,296 842.7,292 842.9,294.8 843.1,296 843.2,296.5 843.4,296.9 843.6,295.9 843.7,293.9 843.9,290.9 844.1,291.5 844.2,295.4 844.4,295.8 844.5,291.8 844.7,298.4 844.9,296 845,294.2 845.2,296.2 845.4,295.8 845.5,292.1 845.7,297.3 845.9,295.3 846,294.4 846.2,292.4 846.4,296.2 846.5,289.5 846.7,293.1 846.9,292.9 847,293 847.2,293.8 847.4,294.5 847.5,288.6 847.7,291.1 847.9,291.8 848,288.7 848.2,293.2 848.4,289.5 848.5,291.1 848.7,293.4 848.9,280.2 849,294.9 849.2,288.9 849.4,293 849.5,289.4 849.7,286.6 849.8,288.8 850,291.9 850.2,290.2 850.3,291 850.5,293.1 850.7,292.8 850.8,289.6 851,288.1 851.2,294.3 851.3,289.6 851.5,287.9 851.7,288.9 851.8,291.8 852,286.1 852.2,292.2 852.3,287 852.5,284.2 852.7,294.2 852.8,287.7 853,287.4 853.2,287.6 853.3,290.2 853.5,288.8 853.7,291.8 853.8,287.4 854,286.2 854.2,289.4 854.3,290 854.5,288.6 854.7,287.2 854.8,286.9 855,287.3 855.1,286.7 855.3,290.4 855.5,294.3 855.6,284.8 855.8,282.5 856,290.3 856.1,288.1 856.3,285.3 856.5,283.4 856.6,284.1 856.8,282.2 857,285.9 857.1,284.4 857.3,284.3 857.5,285.8 857.6,281.9 857.8,283.4 858,282.3 858.1,286.1 858.3,282 858.5,287.8 858.6,283.6 858.8,292 859,287.3 859.1,282.3 859.3,285.6 859.5,283.7 859.6,288.7 859.8,279.6 860,282.2 860.1,283.9 860.3,282.5 860.4,282.7 860.6,279.5 860.8,282.8 860.9,287.6 861.1,284 861.3,279.5 861.4,281.5 861.6,284.2 861.8,281.2 861.9,282.5 862.1,281 862.3,287.2 862.4,285.2 862.6,280.6 862.8,283.1 862.9,281.3 863.1,276.6 863.3,283.1 863.4,281.4 863.6,283.7 863.8,283.8 863.9,282.1 864.1,284.9 864.3,287.9 864.4,277.8 864.6,282 864.8,278.4 864.9,281.2 865.1,281.1 865.3,279.5 865.4,279.3 865.6,284.8 865.7,278.3 865.9,284 866.1,280.6 866.2,273.7 866.4,280.8 866.6,276.2 866.7,282 866.9,279.1 867.1,280.7 867.2,279.6 867.4,283.2 867.6,283.4 867.7,279.7 867.9,285.1 868.1,283 868.2,278.6 868.4,282.2 868.6,283 868.7,283.6 868.9,279.8 869.1,281.3 869.2,285.2 869.4,280.7 869.6,274.6 869.7,281.3 869.9,285.7 870.1,279.6 870.2,279.8 870.4,279.3 870.6,284.4 870.7,276.4 870.9,279.7 871,283 871.2,284.2 871.4,278.1 871.5,279.6 871.7,275.4 871.9,280.6 872,282.9 872.2,278.9 872.4,281.9 872.5,277.9 872.7,287.4 872.9,279.4 873,279.7 873.2,279 873.4,280.4 873.5,281.2 873.7,280.9 873.9,280.5 874,278.3 874.2,279.5 874.4,285.2 874.5,278.7 874.7,274.4 874.9,277.6 875,276.7 875.2,277 875.4,279.7 875.5,282.2 875.7,275.9 875.9,275.1 876,276.5 876.2,276.9 876.3,276.9 876.5,278.1 876.7,277.2 876.8,277.9 877,276.9 877.2,280.6 877.3,279.6 877.5,276.1 877.7,278.7 877.8,284.8 878,277.3 878.2,284.3 878.3,271.9 878.5,275.4 878.7,275.5 878.8,279.4 879,284.3 879.2,278 879.3,277.2 879.5,279.5 879.7,276.7 879.8,275.1 880,275.4 880.2,280.1 880.3,283.4 880.5,277 880.7,278.9 880.8,275.6 881,272.1 881.2,272 881.3,276 881.5,273.5 881.6,271.9 881.8,282 882,275.9 882.1,274.1 882.3,276.7 882.5,278 882.6,278.7 882.8,276.5 883,278.3 883.1,274.1 883.3,277.4 883.5,272.1 883.6,272.8 883.8,279.9 884,273.1 884.1,277.4 884.3,272.2 884.5,274.7 884.6,276.3 884.8,268.1 885,277.7 885.1,275.1 885.3,274.9 885.5,276.4 885.6,274.8 885.8,278.9 886,274.3 886.1,279.4 886.3,275.4 886.5,274.4 886.6,273.7 886.8,277.4 886.9,266.8 887.1,276.4 887.3,275.2 887.4,277.9 887.6,271.4 887.8,279.1 887.9,272.7 888.1,278.4 888.3,274.6 888.4,276.6 888.6,272.8 888.8,276.3 888.9,278 889.1,274.1 889.3,278.9 889.4,278.2 889.6,273.1 889.8,280.9 889.9,273.5 890.1,276.5 890.3,278 890.4,274.6 890.6,273.4 890.8,277 890.9,275.8 891.1,272.9 891.3,273 891.4,275.4 891.6,277.5 891.8,278 891.9,276.9 892.1,273.2 892.2,273.5 892.4,274.3 892.6,271.1 892.7,276 892.9,276.3 893.1,276.3 893.2,269.5 893.4,281.1 893.6,274.3 893.7,273.8 893.9,274.9 894.1,268.3 894.2,271.7 894.4,272.8 894.6,285.8 894.7,273.6 894.9,276.2 895.1,275 895.2,274.5 895.4,276.5 895.6,273.2 895.7,270.3 895.9,272.1 896.1,274.4 896.2,280.7 896.4,271.9 896.6,271.9 896.7,275.6 896.9,276.5 897.1,273.2 897.2,277.4 897.4,272.8 897.5,278.2 897.7,277.8 897.9,275 898,279.3 898.2,275.1 898.4,273.5 898.5,278.9 898.7,272.4 898.9,276.7 899,273.5 899.2,274.5 899.4,276.4 899.5,276.6 899.7,280.1 899.9,277.2 900,277.4 900.2,270.4 900.4,272.2 900.5,279.1 900.7,272.8 900.9,274.5 901,276.3 901.2,273.8 901.4,272.9 901.5,276.8 901.7,276 901.9,274.7 902,278.1 902.2,274.7 902.4,275.5 902.5,277.2 902.7,277.7 902.8,274.4 903,279 903.2,274.3 903.3,277.8 903.5,273.1 903.7,274.8 903.8,273.6 904,271.9 904.2,275.1 904.3,275.7 904.5,277.1 904.7,277.9 904.8,269.6 905,272.7 905.2,280.5 905.3,274.2 905.5,277 905.7,272.1 905.8,275.2 906,275.9 906.2,275 906.3,274.3 906.5,275.4 906.7,276.1 906.8,275.9 907,274 907.2,278.8 907.3,275.5 907.5,275.9 907.7,277 907.8,273.4 908,279.3 908.2,276.6 908.3,278.1 908.5,274 908.6,277 908.8,275.5 909,274.5 909.1,280.3 909.3,274.4 909.5,277.8 909.6,276.4 909.8,276 910,273.4 910.1,273.6 910.3,270.7 910.5,275.3 910.6,277.2 910.8,277.3 911,273.9 911.1,271.2 911.3,274.9 911.5,277.5 911.6,275.1 911.8,275.2 912,275.8 912.1,287.2 912.3,283.2 912.5,277.5 912.6,272.9 912.8,275.4 913,282.3 913.1,276 913.3,281.3 913.5,270.3 913.6,275.5 913.8,279.5 913.9,272.2 914.1,278.4 914.3,274.5 914.4,276.1 914.6,279.5 914.8,274.3 914.9,280 915.1,272.4 915.3,276.1 915.4,275.6 915.6,281.5 915.8,271.6 915.9,272.1 916.1,279.9 916.3,271.6 916.4,275.9 916.6,277 916.8,276.6 916.9,277.2 917.1,272.3 917.3,276 917.4,281.7 917.6,270.5 917.8,274 917.9,279.6 918.1,277.5 918.3,279.1 918.4,276.4 918.6,275.4 918.8,275.9 918.9,278.3 919.1,278.9 919.2,274.2 919.4,277 919.6,270.3 919.7,279 919.9,274.5 920.1,276.6 920.2,278.9 920.4,272.9 920.6,276.4 920.7,279.4 920.9,277.7 921.1,273.9 921.2,280.4 921.4,273 921.6,275 921.7,277.7 921.9,273.1 922.1,272 922.2,275.3 922.4,276.5 922.6,271.7 922.7,272.8 922.9,279.7 923.1,277.7 923.2,277.7 923.4,278.3 923.6,281.4 923.7,274.6 923.9,276.9 924.1,276.9 924.2,279.1 924.4,278.9 924.5,277.4 924.7,276.5 924.9,278.6 925,277.7 925.2,275.2 925.4,277.4 925.5,273.6 925.7,279.6 925.9,276.9 926,281.6 926.2,277.9 926.4,279.6 926.5,273.7 926.7,275.5 926.9,276.2 927,272.2 927.2,273.6 927.4,275.7 927.5,279.8 927.7,282 927.9,277.9 928,278.9 928.2,279.8 928.4,278.8 928.5,282.7 928.7,273.8 928.9,281.3 929,280 929.2,276.5 929.4,282.8 929.5,275.6 929.7,275.6 929.8,279.2 930,281.4 930.2,279.7 930.3,283.7 930.5,274.5 930.7,278.4 930.8,280.6 931,281.2 931.2,277 931.3,274.4 931.5,282.3 931.7,280.4 931.8,283.8 932,276.9 932.2,278.4 932.3,272.5 932.5,279.3 932.7,280.3 932.8,281.1 933,276.7 933.2,283.8 933.3,277.1 933.5,278.5 933.7,280.7 933.8,281.9 934,276.4 934.2,274.1 934.3,280.7 934.5,271.7 934.7,274.6 934.8,281.4 935,280.4 935.1,283.2 935.3,280.2 935.5,280 935.6,281 935.8,282 936,284.4 936.1,283.8 936.3,282.8 936.5,278.3 936.6,281.6 936.8,282.6 937,278.4 937.1,278.7 937.3,282.5 937.5,282.1 937.6,278.6 937.8,279.4 938,282.9 938.1,279.9 938.3,280.7 938.5,277.5 938.6,283.2 938.8,276.8 939,279.6 939.1,283.7 939.3,277.9 939.5,278.4 939.6,284.7 939.8,275.5 940,284.3 940.1,283.8 940.3,282.1 940.4,279.1 940.6,279.7 940.8,281.6 940.9,277.5 941.1,280.3 941.3,277.6 941.4,273.6 941.6,281 941.8,288.9 941.9,283 942.1,284.8 942.3,281.5 942.4,281.6 942.6,285.3 942.8,285.2 942.9,282.7 943.1,282.6 943.3,289.4 943.4,279.4 943.6,282.1 943.8,282.2 943.9,281.4 944.1,285.2 944.3,282.5 944.4,279.4 944.6,279.4 944.8,281.2 944.9,283.3 945.1,284.9 945.3,278.9 945.4,281.2 945.6,283.9 945.7,288.9 945.9,285.2 946.1,288.3 946.2,279.3 946.4,285.9 946.6,285.1 946.7,283.8 946.9,275.7 947.1,279.6 947.2,286.9 947.4,283.5 947.6,286.7 947.7,288.1 947.9,282.8 948.1,276.4 948.2,278.9 948.4,283.3 948.6,282.3 948.7,282.9 948.9,280.6 949.1,287.7 949.2,288.9 949.4,278.3 949.6,282.9 949.7,279.1 949.9,283.1 950.1,279.6 950.2,285.6 950.4,282.4 950.6,279.5 950.7,281 950.9,285.3 951,281.5 951.2,286 951.4,288.2 951.5,282.6 951.7,280.2 951.9,281.8 952,287.9 952.2,281.8 952.4,282.4 952.5,285.7 952.7,291.5 952.9,281.6 953,282 953.2,283.1 953.4,289.5 953.5,288.9 953.7,281.8 953.9,282.4 954,283.3 954.2,285.5 954.4,283.7 954.5,286.4 954.7,285.8 954.9,287.4 955,284.2 955.2,286.2 955.4,282.3 955.5,283 955.7,287.4 955.9,279.9 956,288.4 956.2,283.9 956.3,282.2 956.5,281.7 956.7,291.7 956.8,282.5 957,281.9 957.2,281.4 957.3,291.9 957.5,287.5 957.7,285.9 957.8,286.9 958,281.8 958.2,287.6 958.3,282.2 958.5,284.2 958.7,290 958.8,288.7 959,287.2 959.2,285.7 959.3,283.1 959.5,286.5 959.7,282.4 959.8,290.6 960,294.8 960.2,287.1 960.3,284.9 960.5,287.3 960.7,289.2 960.8,285.1 961,280.8 961.2,286.7 961.3,288.5 961.5,288.9 961.6,280.9 961.8,286.7 962,284.8 962.1,283.1 962.3,283.6 962.5,289.3 962.6,284 962.8,284.4 963,285.4 963.1,284 963.3,288.5 963.5,287.1 963.6,288.4 963.8,284.8 964,288.9 964.1,286 964.3,290.2 964.5,287.5 964.6,288.2 964.8,287.5 965,286.9 965.1,292.3 965.3,288 965.5,293.2 965.6,284.3 965.8,289.2 966,288.2 966.1,289.9 966.3,284.7 966.5,290.2 966.6,286.2 966.8,284.4 966.9,283.1 967.1,284.4 967.3,286 967.4,291.2 967.6,284.2 967.8,284.6 967.9,285.6 968.1,285.7 968.3,287.8 968.4,289.5 968.6,285 968.8,283.9 968.9,291.1 969.1,285.6 969.3,287.5 969.4,285.8 969.6,287.5" fill="none" stroke="#000" stroke-width="1.15" stroke-linejoin="round"/>
<rect x="638.5" y="31.2" width="331.1" height="325.1" fill="none" stroke="#111" stroke-width="1.6"/>
<path d="M638.5 192.6H969.6" stroke="#111" stroke-width="1.6"/>
<path d="M663 31.2v6M663 192.6v-6M663 356.3v-6M693.7 31.2v3.5M693.7 192.6v-3.5M693.7 356.3v-3.5M724.3 31.2v6M724.3 192.6v-6M724.3 356.3v-6M755 31.2v3.5M755 192.6v-3.5M755 356.3v-3.5M785.7 31.2v6M785.7 192.6v-6M785.7 356.3v-6M816.3 31.2v3.5M816.3 192.6v-3.5M816.3 356.3v-3.5M847 31.2v6M847 192.6v-6M847 356.3v-6M877.6 31.2v3.5M877.6 192.6v-3.5M877.6 356.3v-3.5M908.3 31.2v6M908.3 192.6v-6M908.3 356.3v-6M938.9 31.2v3.5M938.9 192.6v-3.5M938.9 356.3v-3.5M638.5 165.7h3.8M969.6 165.7h-3.8M638.5 329h3.8M969.6 329h-3.8M638.5 138.8h6.5M969.6 138.8h-6.5M638.5 301.7h6.5M969.6 301.7h-6.5M638.5 111.9h3.8M969.6 111.9h-3.8M638.5 274.4h3.8M969.6 274.4h-3.8M638.5 85h6.5M969.6 85h-6.5M638.5 247.2h6.5M969.6 247.2h-6.5M638.5 58.1h3.8M969.6 58.1h-3.8M638.5 219.9h3.8M969.6 219.9h-3.8" stroke="#111" stroke-width="1.4" fill="none"/>
<text x="630.9" y="37.1" font-size="18" font-weight="bold" text-anchor="end" fill="#000" textLength="40.2" lengthAdjust="spacingAndGlyphs" stroke="#000" stroke-width="0.25">1500</text>
<text x="630.9" y="90.9" font-size="18" font-weight="bold" text-anchor="end" fill="#000" textLength="40.2" lengthAdjust="spacingAndGlyphs" stroke="#000" stroke-width="0.25">1000</text>
<text x="630.9" y="144.7" font-size="18" font-weight="bold" text-anchor="end" fill="#000" textLength="30.1" lengthAdjust="spacingAndGlyphs" stroke="#000" stroke-width="0.25">500</text>
<text x="630.9" y="198.5" font-size="18" font-weight="bold" text-anchor="end" fill="#000" textLength="40.2" lengthAdjust="spacingAndGlyphs" stroke="#000" stroke-width="0.25">1500</text>
<text x="630.9" y="253.1" font-size="18" font-weight="bold" text-anchor="end" fill="#000" textLength="40.2" lengthAdjust="spacingAndGlyphs" stroke="#000" stroke-width="0.25">1000</text>
<text x="630.9" y="307.6" font-size="18" font-weight="bold" text-anchor="end" fill="#000" textLength="30.1" lengthAdjust="spacingAndGlyphs" stroke="#000" stroke-width="0.25">500</text>
<text x="630.9" y="362.2" font-size="18" font-weight="bold" text-anchor="end" fill="#000" textLength="10" lengthAdjust="spacingAndGlyphs" stroke="#000" stroke-width="0.25">0</text>
<text x="663" y="378.9" font-size="18" font-weight="bold" text-anchor="middle" fill="#000" stroke="#000" stroke-width="0.25">5</text>
<text x="724.3" y="378.9" font-size="18" font-weight="bold" text-anchor="middle" fill="#000" stroke="#000" stroke-width="0.25">10</text>
<text x="785.7" y="378.9" font-size="18" font-weight="bold" text-anchor="middle" fill="#000" stroke="#000" stroke-width="0.25">15</text>
<text x="847" y="378.9" font-size="18" font-weight="bold" text-anchor="middle" fill="#000" stroke="#000" stroke-width="0.25">20</text>
<text x="908.3" y="378.9" font-size="18" font-weight="bold" text-anchor="middle" fill="#000" stroke="#000" stroke-width="0.25">25</text>
<text x="969.6" y="378.9" font-size="18" font-weight="bold" text-anchor="middle" fill="#000" stroke="#000" stroke-width="0.25">30</text>
<text transform="translate(580 189.3) rotate(-90)" x="0" y="0" font-size="24.5" font-weight="bold" text-anchor="middle" textLength="205" lengthAdjust="spacingAndGlyphs" stroke="#000" stroke-width="0.3">Intensity (counts)</text>
<text x="809.4" y="411.8" font-size="20.5" font-weight="bold" text-anchor="middle" fill="#000" textLength="161.5" lengthAdjust="spacingAndGlyphs" stroke="#000" stroke-width="0.3">2 Theta (degree)</text>
<text x="723.2" y="56.5" font-size="18" font-weight="bold" text-anchor="start" fill="#000" textLength="127.2" lengthAdjust="spacingAndGlyphs" stroke="#000" stroke-width="0.3">P3HT(CB-CN)</text>
<text x="962.5" y="55.8" font-size="21" font-weight="bold" text-anchor="end" fill="#000" textLength="30" lengthAdjust="spacingAndGlyphs" stroke="#000" stroke-width="0.3">(b)</text>
<text x="740.5" y="220" font-size="18" font-weight="bold" text-anchor="start" fill="#000" textLength="92" lengthAdjust="spacingAndGlyphs" stroke="#000" stroke-width="0.3">P3HT(CB)</text>
</svg></body></html>
